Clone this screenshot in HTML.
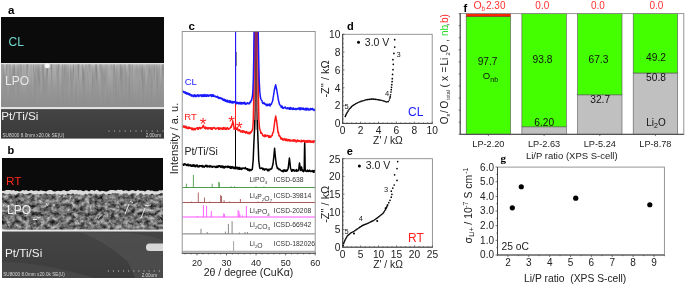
<!DOCTYPE html><html><head><meta charset="utf-8"><style>html,body{margin:0;padding:0;background:#fff;}svg{display:block;filter:blur(0.35px);}</style></head><body>
<svg width="685" height="285" viewBox="0 0 685 285">
<rect width="685" height="285" fill="#fff"/>
<text x="7.9" y="13.9" font-size="11.5" fill="#000" text-anchor="start" font-weight="bold" font-family='"Liberation Sans", sans-serif' >a</text>
<text x="7.4" y="154.3" font-size="11" fill="#000" text-anchor="start" font-weight="bold" font-family='"Liberation Sans", sans-serif' >b</text>
<defs><linearGradient id="lpoA" x1="0" y1="0" x2="0" y2="1"><stop offset="0" stop-color="#d8d8d8"/><stop offset="0.04" stop-color="#bcbcbc"/><stop offset="0.12" stop-color="#acacac"/><stop offset="0.5" stop-color="#9c9c9c"/><stop offset="1" stop-color="#8e8e8e"/></linearGradient><linearGradient id="fadeA" x1="0" y1="0" x2="0" y2="1"><stop offset="0" stop-color="#fff" stop-opacity="1"/><stop offset="0.55" stop-color="#fff" stop-opacity="0.25"/><stop offset="1" stop-color="#fff" stop-opacity="0"/></linearGradient><mask id="maskA"><rect x="0" y="64" width="170" height="43" fill="url(#fadeA)"/></mask><linearGradient id="ptA" x1="0" y1="0" x2="0" y2="1"><stop offset="0" stop-color="#444"/><stop offset="1" stop-color="#3a3a3a"/></linearGradient><filter id="streak" x="0" y="0" width="1" height="1" color-interpolation-filters="sRGB"><feTurbulence type="fractalNoise" baseFrequency="0.45 0.03" numOctaves="2" seed="3"/><feColorMatrix type="matrix" values="0 0 0 0 0  0 0 0 0 0  0 0 0 0 0  1.2 0 0 0 -0.45"/></filter></defs>
<rect x="1" y="17" width="163" height="46" fill="#0b0b0b"/>
<rect x="1" y="63" width="163" height="44.4" fill="url(#lpoA)"/>
<g mask="url(#maskA)"><rect x="1" y="64" width="163" height="43" filter="url(#streak)" opacity="0.55"/></g>
<rect x="1" y="63" width="163" height="1.2" fill="#e0e0e0"/>
<rect x="1" y="107.3" width="163" height="1.8" fill="#e4e4e4"/>
<rect x="1" y="109.1" width="163" height="29.5" fill="url(#ptA)"/>
<circle cx="47.3" cy="65.8" r="2.5" fill="#f6f6f6"/>
<text x="8.6" y="46.2" font-size="12" fill="#6fd8cc" text-anchor="start" font-weight="normal" font-family='"Liberation Sans", sans-serif' >CL</text>
<text x="5.0" y="85" font-size="12" fill="#e8e8e8" text-anchor="start" font-weight="normal" font-family='"Liberation Sans", sans-serif' >LPO</text>
<text x="1.2" y="119.6" font-size="11.7" fill="#f0f0f0" text-anchor="start" font-weight="normal" font-family='"Liberation Sans", sans-serif' >Pt/Ti/Si</text>
<text x="2.5" y="136.6" font-size="4.6" fill="#d8d8d8" text-anchor="start" font-weight="normal" font-family='"Liberation Sans", sans-serif' letter-spacing="0.05">SU8000 8.0mm x20.0k SE(U)</text>
<line x1="109.0" y1="130.5" x2="109.0" y2="131.6" stroke="#ddd" stroke-width="0.8" />
<line x1="114.4" y1="130.5" x2="114.4" y2="131.6" stroke="#ddd" stroke-width="0.8" />
<line x1="119.8" y1="130.5" x2="119.8" y2="131.6" stroke="#ddd" stroke-width="0.8" />
<line x1="125.2" y1="130.5" x2="125.2" y2="131.6" stroke="#ddd" stroke-width="0.8" />
<line x1="130.6" y1="130.5" x2="130.6" y2="131.6" stroke="#ddd" stroke-width="0.8" />
<line x1="136.0" y1="130.5" x2="136.0" y2="131.6" stroke="#ddd" stroke-width="0.8" />
<line x1="141.4" y1="130.5" x2="141.4" y2="131.6" stroke="#ddd" stroke-width="0.8" />
<line x1="146.8" y1="130.5" x2="146.8" y2="131.6" stroke="#ddd" stroke-width="0.8" />
<line x1="152.2" y1="130.5" x2="152.2" y2="131.6" stroke="#ddd" stroke-width="0.8" />
<line x1="157.6" y1="130.5" x2="157.6" y2="131.6" stroke="#ddd" stroke-width="0.8" />
<line x1="163.0" y1="130.5" x2="163.0" y2="131.6" stroke="#ddd" stroke-width="0.8" />
<text x="161" y="136.6" font-size="4.6" fill="#d8d8d8" text-anchor="end" font-weight="normal" font-family='"Liberation Sans", sans-serif' >2.00um</text>
<defs><filter id="grain" x="0" y="0" width="1" height="1" color-interpolation-filters="sRGB"><feTurbulence type="fractalNoise" baseFrequency="0.2 0.24" numOctaves="3" seed="11"/><feColorMatrix type="matrix" values="1 0 0 0 0  1 0 0 0 0  1 0 0 0 0  0 0 0 0 1"/><feComponentTransfer><feFuncR type="linear" slope="1.05" intercept="-0.09"/><feFuncG type="linear" slope="1.05" intercept="-0.09"/><feFuncB type="linear" slope="1.05" intercept="-0.09"/></feComponentTransfer></filter><linearGradient id="ptB" x1="0" y1="0" x2="0" y2="1"><stop offset="0" stop-color="#454545"/><stop offset="1" stop-color="#3c3c3c"/></linearGradient><clipPath id="clipB"><rect x="2" y="158" width="161" height="120"/></clipPath></defs>
<rect x="2" y="158" width="161" height="34" fill="#0b0b0b"/>
<rect x="2" y="192" width="161" height="38" fill="#4a4a4a"/>
<rect x="2" y="193" width="161" height="37" filter="url(#grain)" opacity="1"/>
<g clip-path="url(#clipB)"><line x1="102.3" y1="219.5" x2="104.6" y2="214.9" stroke="#b8b8b8" stroke-width="1.1" opacity="0.8"/><line x1="147.0" y1="198.7" x2="148.6" y2="201.9" stroke="#a8a8a8" stroke-width="1.0" opacity="0.8"/><line x1="4.1" y1="202.2" x2="8.3" y2="205.7" stroke="#d0d0d0" stroke-width="0.7" opacity="0.8"/><line x1="130.3" y1="199.6" x2="131.9" y2="200.8" stroke="#a8a8a8" stroke-width="0.7" opacity="0.8"/><line x1="36.7" y1="227.4" x2="40.9" y2="223.3" stroke="#3a3a3a" stroke-width="1.2" opacity="0.8"/><line x1="102.7" y1="201.0" x2="104.9" y2="195.8" stroke="#909090" stroke-width="0.6" opacity="0.8"/><line x1="68.8" y1="225.9" x2="71.4" y2="227.8" stroke="#3a3a3a" stroke-width="1.0" opacity="0.8"/><line x1="98.0" y1="218.4" x2="101.7" y2="214.6" stroke="#d0d0d0" stroke-width="1.1" opacity="0.8"/><line x1="31.7" y1="210.6" x2="36.5" y2="207.1" stroke="#a8a8a8" stroke-width="1.3" opacity="0.8"/><line x1="59.6" y1="208.3" x2="62.5" y2="211.5" stroke="#a8a8a8" stroke-width="0.9" opacity="0.8"/><line x1="115.9" y1="215.6" x2="118.3" y2="213.7" stroke="#d0d0d0" stroke-width="0.8" opacity="0.8"/><line x1="59.1" y1="212.3" x2="63.1" y2="215.4" stroke="#909090" stroke-width="1.2" opacity="0.8"/><line x1="7.9" y1="226.2" x2="10.9" y2="223.5" stroke="#909090" stroke-width="1.2" opacity="0.8"/><line x1="56.7" y1="225.5" x2="59.0" y2="223.2" stroke="#b8b8b8" stroke-width="1.2" opacity="0.8"/><line x1="102.9" y1="218.8" x2="103.9" y2="221.3" stroke="#a8a8a8" stroke-width="0.7" opacity="0.8"/><line x1="98.7" y1="225.5" x2="101.9" y2="222.5" stroke="#909090" stroke-width="0.9" opacity="0.8"/><line x1="69.9" y1="196.8" x2="71.5" y2="193.9" stroke="#b8b8b8" stroke-width="0.7" opacity="0.8"/><line x1="119.8" y1="226.3" x2="122.7" y2="228.6" stroke="#b8b8b8" stroke-width="0.6" opacity="0.8"/><line x1="69.7" y1="199.7" x2="71.2" y2="196.1" stroke="#d0d0d0" stroke-width="1.1" opacity="0.8"/><line x1="53.2" y1="204.0" x2="54.9" y2="206.0" stroke="#d0d0d0" stroke-width="1.2" opacity="0.8"/><line x1="87.6" y1="200.9" x2="88.8" y2="203.4" stroke="#d0d0d0" stroke-width="0.8" opacity="0.8"/><line x1="127.9" y1="223.6" x2="132.1" y2="226.7" stroke="#909090" stroke-width="1.1" opacity="0.8"/><line x1="108.9" y1="220.1" x2="111.7" y2="223.8" stroke="#d0d0d0" stroke-width="0.8" opacity="0.8"/><line x1="159.9" y1="218.6" x2="162.3" y2="222.2" stroke="#a8a8a8" stroke-width="0.9" opacity="0.8"/><line x1="126.6" y1="205.8" x2="129.9" y2="209.8" stroke="#444" stroke-width="1.1" opacity="0.8"/><line x1="59.4" y1="204.0" x2="62.1" y2="208.6" stroke="#909090" stroke-width="1.2" opacity="0.8"/><line x1="29.8" y1="223.6" x2="32.0" y2="229.0" stroke="#3a3a3a" stroke-width="0.7" opacity="0.8"/><line x1="159.8" y1="201.6" x2="161.4" y2="205.1" stroke="#444" stroke-width="0.7" opacity="0.8"/><line x1="110.0" y1="208.7" x2="113.0" y2="211.7" stroke="#444" stroke-width="0.8" opacity="0.8"/><line x1="162.4" y1="201.5" x2="163.9" y2="203.7" stroke="#444" stroke-width="0.7" opacity="0.8"/><line x1="117.7" y1="227.6" x2="121.9" y2="224.0" stroke="#a8a8a8" stroke-width="0.8" opacity="0.8"/><line x1="31.2" y1="201.4" x2="33.5" y2="198.8" stroke="#444" stroke-width="1.0" opacity="0.8"/><line x1="97.0" y1="202.8" x2="100.0" y2="204.9" stroke="#909090" stroke-width="1.2" opacity="0.8"/><line x1="141.5" y1="217.7" x2="143.1" y2="221.6" stroke="#909090" stroke-width="0.7" opacity="0.8"/><line x1="89.8" y1="206.2" x2="91.8" y2="211.1" stroke="#d0d0d0" stroke-width="0.9" opacity="0.8"/><line x1="92.8" y1="212.8" x2="96.2" y2="215.5" stroke="#3a3a3a" stroke-width="0.9" opacity="0.8"/><line x1="34.1" y1="199.4" x2="37.9" y2="195.3" stroke="#a8a8a8" stroke-width="0.9" opacity="0.8"/><line x1="54.5" y1="225.2" x2="58.3" y2="221.3" stroke="#3a3a3a" stroke-width="0.9" opacity="0.8"/><line x1="71.5" y1="202.5" x2="74.6" y2="206.2" stroke="#d0d0d0" stroke-width="1.3" opacity="0.8"/><line x1="149.1" y1="214.7" x2="150.7" y2="217.4" stroke="#909090" stroke-width="0.9" opacity="0.8"/><line x1="53.4" y1="227.5" x2="54.4" y2="229.8" stroke="#a8a8a8" stroke-width="0.7" opacity="0.8"/><line x1="102.1" y1="209.6" x2="104.2" y2="211.1" stroke="#d0d0d0" stroke-width="0.6" opacity="0.8"/><line x1="87.7" y1="204.0" x2="89.2" y2="206.7" stroke="#909090" stroke-width="1.2" opacity="0.8"/><line x1="118.2" y1="204.4" x2="120.4" y2="207.6" stroke="#444" stroke-width="1.2" opacity="0.8"/><line x1="143.8" y1="224.5" x2="145.4" y2="221.7" stroke="#3a3a3a" stroke-width="1.1" opacity="0.8"/><line x1="100.8" y1="219.1" x2="103.0" y2="216.5" stroke="#444" stroke-width="1.2" opacity="0.8"/><line x1="23.3" y1="195.1" x2="24.6" y2="197.2" stroke="#444" stroke-width="1.0" opacity="0.8"/><line x1="4.3" y1="220.7" x2="7.1" y2="224.6" stroke="#444" stroke-width="1.1" opacity="0.8"/><line x1="140.2" y1="222.8" x2="143.9" y2="226.8" stroke="#b8b8b8" stroke-width="1.2" opacity="0.8"/><line x1="76.9" y1="220.0" x2="79.0" y2="224.3" stroke="#d0d0d0" stroke-width="1.0" opacity="0.8"/><line x1="106.4" y1="210.6" x2="109.4" y2="213.1" stroke="#3a3a3a" stroke-width="1.2" opacity="0.8"/><line x1="158.6" y1="212.8" x2="161.7" y2="217.0" stroke="#a8a8a8" stroke-width="1.1" opacity="0.8"/><line x1="45.0" y1="197.8" x2="46.2" y2="196.0" stroke="#444" stroke-width="0.9" opacity="0.8"/><line x1="13.1" y1="208.4" x2="17.4" y2="211.5" stroke="#b8b8b8" stroke-width="1.0" opacity="0.8"/><line x1="134.7" y1="198.7" x2="136.5" y2="194.2" stroke="#d0d0d0" stroke-width="0.7" opacity="0.8"/><line x1="100.3" y1="208.7" x2="102.6" y2="207.0" stroke="#3a3a3a" stroke-width="0.7" opacity="0.8"/><line x1="63.1" y1="197.4" x2="64.5" y2="195.4" stroke="#d0d0d0" stroke-width="1.2" opacity="0.8"/><line x1="23.6" y1="209.2" x2="25.7" y2="212.6" stroke="#909090" stroke-width="1.3" opacity="0.8"/><line x1="62.2" y1="196.8" x2="65.7" y2="199.7" stroke="#3a3a3a" stroke-width="0.8" opacity="0.8"/><line x1="153.7" y1="213.1" x2="156.7" y2="210.3" stroke="#909090" stroke-width="1.2" opacity="0.8"/><line x1="47.6" y1="227.2" x2="49.3" y2="223.7" stroke="#d0d0d0" stroke-width="0.7" opacity="0.8"/><line x1="116.8" y1="216.6" x2="118.1" y2="214.9" stroke="#a8a8a8" stroke-width="1.0" opacity="0.8"/><line x1="75.0" y1="207.9" x2="77.1" y2="210.4" stroke="#3a3a3a" stroke-width="0.6" opacity="0.8"/><line x1="118.7" y1="196.8" x2="120.2" y2="193.4" stroke="#b8b8b8" stroke-width="1.1" opacity="0.8"/><line x1="15.5" y1="225.1" x2="16.7" y2="227.3" stroke="#3a3a3a" stroke-width="0.9" opacity="0.8"/><line x1="136.6" y1="204.6" x2="138.2" y2="207.7" stroke="#444" stroke-width="1.2" opacity="0.8"/><line x1="106.3" y1="221.5" x2="107.6" y2="224.7" stroke="#a8a8a8" stroke-width="1.0" opacity="0.8"/><line x1="94.3" y1="219.4" x2="96.0" y2="220.7" stroke="#b8b8b8" stroke-width="0.7" opacity="0.8"/><line x1="8.4" y1="224.3" x2="10.2" y2="227.2" stroke="#d0d0d0" stroke-width="0.9" opacity="0.8"/><line x1="145.3" y1="215.4" x2="148.0" y2="218.2" stroke="#b8b8b8" stroke-width="0.7" opacity="0.8"/></g>
<g clip-path="url(#clipB)" stroke="#e8e8e8" stroke-width="1"><line x1="125" y1="214" x2="129" y2="204"/><line x1="141" y1="218" x2="145" y2="208"/><line x1="145" y1="205.5" x2="151" y2="205"/><line x1="33" y1="219.5" x2="37" y2="219.5"/><line x1="46" y1="203" x2="47.5" y2="206"/><line x1="130" y1="201" x2="133" y2="203"/></g>
<g clip-path="url(#clipB)"><polygon points="1.0,190.4 2.8,191.0 4.6,190.8 6.4,189.9 8.2,189.9 10.0,189.9 11.8,190.6 13.6,190.0 15.4,190.9 17.2,190.8 19.0,191.6 20.8,191.3 22.6,190.1 24.4,190.4 26.2,190.1 28.0,191.0 29.8,190.8 31.6,189.9 33.4,191.0 35.2,190.4 37.0,190.6 38.8,191.2 40.6,190.2 42.4,190.7 44.2,191.1 46.0,191.6 47.8,190.6 49.6,190.1 51.4,189.9 53.2,191.2 55.0,191.4 56.8,191.1 58.6,190.8 60.4,191.3 62.2,190.7 64.0,189.9 65.8,191.0 67.6,191.3 69.4,190.5 71.2,189.8 73.0,190.1 74.8,189.9 76.6,190.0 78.4,190.5 80.2,189.9 82.0,190.8 83.8,191.3 85.6,190.3 87.4,190.4 89.2,191.5 91.0,190.1 92.8,190.2 94.6,190.9 96.4,189.8 98.2,190.5 100.0,191.5 101.8,190.7 103.6,191.0 105.4,191.4 107.2,191.4 109.0,190.5 110.8,190.0 112.6,189.9 114.4,190.2 116.2,190.4 118.0,189.8 119.8,190.0 121.6,189.8 123.4,190.9 125.2,190.3 127.0,190.5 128.8,191.3 130.6,190.6 132.4,190.0 134.2,190.4 136.0,191.3 137.8,189.8 139.6,190.8 141.4,190.8 143.2,190.8 145.0,191.4 146.8,190.3 148.6,190.1 150.4,190.8 152.2,190.4 154.0,191.3 155.8,191.3 157.6,191.3 159.4,190.2 161.2,190.4 163.0,189.9 164.8,190.3 164.8,194.4 163.0,193.6 161.2,193.1 159.4,194.0 157.6,194.5 155.8,194.6 154.0,195.0 152.2,193.4 150.4,194.6 148.6,194.5 146.8,193.7 145.0,194.4 143.2,195.0 141.4,193.1 139.6,193.3 137.8,194.9 136.0,193.3 134.2,193.5 132.4,193.2 130.6,194.0 128.8,195.0 127.0,193.2 125.2,193.7 123.4,193.3 121.6,194.7 119.8,193.7 118.0,193.3 116.2,193.1 114.4,193.3 112.6,193.1 110.8,194.3 109.0,193.8 107.2,194.6 105.4,194.6 103.6,193.1 101.8,194.2 100.0,194.4 98.2,194.1 96.4,193.8 94.6,193.5 92.8,194.0 91.0,193.5 89.2,193.3 87.4,194.8 85.6,193.8 83.8,194.7 82.0,194.8 80.2,193.9 78.4,194.7 76.6,193.5 74.8,194.5 73.0,193.2 71.2,193.9 69.4,194.3 67.6,193.6 65.8,195.0 64.0,194.4 62.2,194.3 60.4,194.9 58.6,193.9 56.8,194.2 55.0,193.6 53.2,194.1 51.4,194.3 49.6,194.0 47.8,194.5 46.0,193.2 44.2,193.6 42.4,194.8 40.6,194.1 38.8,194.4 37.0,193.6 35.2,194.2 33.4,193.9 31.6,193.4 29.8,193.1 28.0,193.7 26.2,194.2 24.4,194.6 22.6,193.2 20.8,193.6 19.0,193.1 17.2,193.8 15.4,194.9 13.6,193.4 11.8,194.7 10.0,193.2 8.2,193.9 6.4,194.0 4.6,193.7 2.8,193.1 1.0,193.3" fill="#dcdcdc"/></g>
<rect x="2" y="229.6" width="161" height="1.9" fill="#e8e8e8"/>
<rect x="2" y="231.5" width="161" height="46.5" fill="url(#ptB)"/>
<g clip-path="url(#clipB)"><path d="M80,232 C100,240 115,250 128,262 L135,278 L163,278 L163,240 C150,236 140,234 130,233 Z" fill="#555" opacity="0.55"/><path d="M2,262 C30,262 60,268 95,278 L2,278 Z" fill="#4e4e4e" opacity="0.6"/><rect x="146" y="243.4" width="20" height="7.6" rx="3.5" fill="#d8d8d8"/></g>
<text x="6.1" y="184.5" font-size="11.7" fill="#ff2a1a" text-anchor="start" font-weight="normal" font-family='"Liberation Sans", sans-serif' >RT</text>
<text x="7.0" y="214.1" font-size="12" fill="#eeeeee" text-anchor="start" font-weight="normal" font-family='"Liberation Sans", sans-serif' >LPO</text>
<text x="5.0" y="256.9" font-size="11.7" fill="#f0f0f0" text-anchor="start" font-weight="normal" font-family='"Liberation Sans", sans-serif' >Pt/Ti/Si</text>
<text x="3.2" y="276.2" font-size="4.6" fill="#d8d8d8" text-anchor="start" font-weight="normal" font-family='"Liberation Sans", sans-serif' letter-spacing="0.05">SU8000 8.0mm x20.0k SE(U)</text>
<line x1="108.3" y1="270.4" x2="108.3" y2="271.6" stroke="#ddd" stroke-width="0.8" />
<line x1="113.39999999999999" y1="270.4" x2="113.39999999999999" y2="271.6" stroke="#ddd" stroke-width="0.8" />
<line x1="118.5" y1="270.4" x2="118.5" y2="271.6" stroke="#ddd" stroke-width="0.8" />
<line x1="123.6" y1="270.4" x2="123.6" y2="271.6" stroke="#ddd" stroke-width="0.8" />
<line x1="128.7" y1="270.4" x2="128.7" y2="271.6" stroke="#ddd" stroke-width="0.8" />
<line x1="133.8" y1="270.4" x2="133.8" y2="271.6" stroke="#ddd" stroke-width="0.8" />
<line x1="138.9" y1="270.4" x2="138.9" y2="271.6" stroke="#ddd" stroke-width="0.8" />
<line x1="144.0" y1="270.4" x2="144.0" y2="271.6" stroke="#ddd" stroke-width="0.8" />
<line x1="149.1" y1="270.4" x2="149.1" y2="271.6" stroke="#ddd" stroke-width="0.8" />
<line x1="154.2" y1="270.4" x2="154.2" y2="271.6" stroke="#ddd" stroke-width="0.8" />
<line x1="159.3" y1="270.4" x2="159.3" y2="271.6" stroke="#ddd" stroke-width="0.8" />
<text x="157" y="276.6" font-size="4.6" fill="#d8d8d8" text-anchor="end" font-weight="normal" font-family='"Liberation Sans", sans-serif' >2.00um</text>
<defs><clipPath id="cclip"><rect x="182.2" y="31.5" width="133.0" height="221.7"/></clipPath></defs>
<text x="188.6" y="29.5" font-size="11.5" fill="#000" text-anchor="start" font-weight="bold" font-family='"Liberation Sans", sans-serif' >c</text>
<g clip-path="url(#cclip)">
<line x1="182.2" y1="187.5" x2="315.2" y2="187.5" stroke="#4c9c4c" stroke-width="1" />
<line x1="186.4" y1="187.5" x2="186.4" y2="183.7" stroke="#4c9c4c" stroke-width="0.9" />
<line x1="193.4" y1="187.5" x2="193.4" y2="174.9" stroke="#4c9c4c" stroke-width="0.9" />
<line x1="212.2" y1="187.5" x2="212.2" y2="183.7" stroke="#4c9c4c" stroke-width="0.9" />
<line x1="218.8" y1="187.5" x2="218.8" y2="181.9" stroke="#4c9c4c" stroke-width="0.9" />
<line x1="219.4" y1="187.5" x2="219.4" y2="182.5" stroke="#4c9c4c" stroke-width="0.9" />
<line x1="231.1" y1="187.5" x2="231.1" y2="186.3" stroke="#4c9c4c" stroke-width="0.9" />
<line x1="234.6" y1="187.5" x2="234.6" y2="186.3" stroke="#4c9c4c" stroke-width="0.9" />
<line x1="256" y1="187.5" x2="256" y2="186.3" stroke="#4c9c4c" stroke-width="0.9" />
<line x1="264" y1="187.5" x2="264" y2="186.5" stroke="#4c9c4c" stroke-width="0.9" />
<line x1="182.2" y1="202.5" x2="315.2" y2="202.5" stroke="#a85858" stroke-width="1" />
<line x1="191.6" y1="202.5" x2="191.6" y2="201.5" stroke="#a85858" stroke-width="0.9" />
<line x1="198.3" y1="202.5" x2="198.3" y2="192.5" stroke="#a85858" stroke-width="0.9" />
<line x1="204.5" y1="202.5" x2="204.5" y2="197.5" stroke="#a85858" stroke-width="0.9" />
<line x1="209.7" y1="202.5" x2="209.7" y2="201.5" stroke="#a85858" stroke-width="0.9" />
<line x1="220.6" y1="202.5" x2="220.6" y2="195.1" stroke="#a85858" stroke-width="0.9" />
<line x1="221.5" y1="202.5" x2="221.5" y2="196" stroke="#a85858" stroke-width="0.9" />
<line x1="224.1" y1="202.5" x2="224.1" y2="200.2" stroke="#a85858" stroke-width="0.9" />
<line x1="229.4" y1="202.5" x2="229.4" y2="201.5" stroke="#a85858" stroke-width="0.9" />
<line x1="240.4" y1="202.5" x2="240.4" y2="199" stroke="#a85858" stroke-width="0.9" />
<line x1="258" y1="202.5" x2="258" y2="201.5" stroke="#a85858" stroke-width="0.9" />
<line x1="262" y1="202.5" x2="262" y2="201.5" stroke="#a85858" stroke-width="0.9" />
<line x1="182.2" y1="217.0" x2="315.2" y2="217.0" stroke="#ff50ff" stroke-width="1" />
<line x1="197.4" y1="217.0" x2="197.4" y2="216" stroke="#ff50ff" stroke-width="0.9" />
<line x1="203.4" y1="217.0" x2="203.4" y2="205.1" stroke="#ff50ff" stroke-width="0.9" />
<line x1="206.6" y1="217.0" x2="206.6" y2="206" stroke="#ff50ff" stroke-width="0.9" />
<line x1="211.3" y1="217.0" x2="211.3" y2="210.9" stroke="#ff50ff" stroke-width="0.9" />
<line x1="223.8" y1="217.0" x2="223.8" y2="213.3" stroke="#ff50ff" stroke-width="0.9" />
<line x1="224.3" y1="217.0" x2="224.3" y2="214" stroke="#ff50ff" stroke-width="0.9" />
<line x1="238.1" y1="217.0" x2="238.1" y2="210" stroke="#ff50ff" stroke-width="0.9" />
<line x1="239" y1="217.0" x2="239" y2="211" stroke="#ff50ff" stroke-width="0.9" />
<line x1="239.9" y1="217.0" x2="239.9" y2="214" stroke="#ff50ff" stroke-width="0.9" />
<line x1="242.5" y1="217.0" x2="242.5" y2="215.5" stroke="#ff50ff" stroke-width="0.9" />
<line x1="246.4" y1="217.0" x2="246.4" y2="206" stroke="#ff50ff" stroke-width="0.9" />
<line x1="182.2" y1="233.9" x2="315.2" y2="233.9" stroke="#7a7a7a" stroke-width="1" />
<line x1="201" y1="233.9" x2="201" y2="228.8" stroke="#7a7a7a" stroke-width="0.9" />
<line x1="207.2" y1="233.9" x2="207.2" y2="232" stroke="#7a7a7a" stroke-width="0.9" />
<line x1="225.4" y1="233.9" x2="225.4" y2="231.5" stroke="#7a7a7a" stroke-width="0.9" />
<line x1="228.4" y1="233.9" x2="228.4" y2="223.9" stroke="#7a7a7a" stroke-width="0.9" />
<line x1="232.1" y1="233.9" x2="232.1" y2="221.2" stroke="#7a7a7a" stroke-width="0.9" />
<line x1="239.3" y1="233.9" x2="239.3" y2="232.5" stroke="#7a7a7a" stroke-width="0.9" />
<line x1="245" y1="233.9" x2="245" y2="232" stroke="#7a7a7a" stroke-width="0.9" />
<line x1="247.4" y1="233.9" x2="247.4" y2="232" stroke="#7a7a7a" stroke-width="0.9" />
<line x1="182.2" y1="251.3" x2="315.2" y2="251.3" stroke="#9a9a9a" stroke-width="1" />
<line x1="233.6" y1="251.3" x2="233.6" y2="241.1" stroke="#9a9a9a" stroke-width="0.9" />
<polyline points="182.50,165.01 182.84,164.04 183.18,165.07 183.52,165.23 183.86,165.21 184.20,164.08 184.55,163.84 184.89,163.90 185.23,163.89 185.57,163.96 185.91,164.85 186.25,165.45 186.59,165.38 186.93,164.71 187.27,165.11 187.61,165.45 187.95,164.07 188.30,165.27 188.64,165.82 188.98,165.61 189.32,165.60 189.66,165.11 190.00,164.56 190.34,165.81 190.67,164.93 191.01,165.90 191.34,166.27 191.68,165.15 192.01,165.20 192.35,166.32 192.68,165.91 193.02,164.83 193.35,164.78 193.69,164.86 194.03,166.40 194.36,166.23 194.70,164.94 195.03,166.34 195.37,166.68 195.70,166.06 196.04,165.48 196.37,165.91 196.71,165.11 197.05,164.91 197.38,166.85 197.72,166.24 198.05,166.03 198.39,166.87 198.72,165.91 199.06,166.81 199.39,166.76 199.73,165.56 200.06,165.67 200.40,165.79 200.73,165.69 201.06,166.39 201.39,165.74 201.72,166.07 202.06,165.50 202.39,167.06 202.72,165.96 203.05,166.17 203.38,166.43 203.71,167.08 204.04,166.12 204.37,167.12 204.70,166.29 205.03,166.36 205.37,166.35 205.70,165.35 206.03,166.20 206.36,165.69 206.69,165.34 207.02,166.94 207.35,165.69 207.68,166.30 208.01,166.81 208.34,166.48 208.68,166.02 209.01,166.42 209.34,166.50 209.67,166.96 210.00,165.61 210.33,166.53 210.66,165.91 210.99,165.97 211.32,166.97 211.65,166.45 211.98,166.56 212.31,166.96 212.64,167.27 212.97,166.34 213.30,166.69 213.63,166.48 213.96,166.50 214.29,166.86 214.62,166.39 214.95,166.56 215.28,166.45 215.62,167.39 215.95,166.91 216.28,167.27 216.61,167.41 216.94,166.05 217.27,166.65 217.60,167.43 217.93,167.23 218.26,165.83 218.59,165.80 218.92,166.45 219.25,165.71 219.58,166.06 219.91,165.73 220.24,166.93 220.57,167.16 220.90,167.39 221.24,165.94 221.58,167.09 221.92,167.00 222.26,166.00 222.59,167.50 222.93,167.70 223.27,166.23 223.61,167.73 223.95,166.65 224.29,166.85 224.63,167.89 224.97,167.60 225.31,166.28 225.64,166.85 225.98,167.05 226.32,166.72 226.66,166.46 227.00,166.74 227.34,167.57 227.68,166.19 228.02,167.29 228.36,167.09 228.69,166.28 229.03,166.93 229.37,167.54 229.71,167.35 230.05,166.48 230.39,168.35 230.73,167.98 231.07,168.38 231.41,166.67 231.74,167.02 232.08,166.60 232.42,168.10 232.76,167.11 233.10,166.86 233.45,167.51 233.80,168.56 234.15,168.44 234.50,167.38 234.85,167.23 235.20,168.84 235.54,168.18 235.89,168.47 236.23,167.29 236.57,167.26 236.91,168.55 237.26,168.06 237.60,167.39 237.94,169.16 238.29,168.59 238.63,168.96 238.97,167.56 239.31,169.14 239.66,167.60 240.00,169.23 240.33,168.45 240.67,168.26 241.00,168.73 241.33,169.52 241.67,168.24 242.00,168.01 242.33,168.85 242.67,168.31 243.00,168.09 243.33,168.24 243.67,168.06 244.00,168.40 244.35,168.37 244.70,168.11 245.05,168.77 245.40,167.58 245.77,168.53 246.13,168.42 246.50,169.29 246.85,168.68 247.20,169.18 247.55,168.75 247.90,170.23 248.25,169.90 248.60,169.22 248.95,169.83 249.30,170.79 249.65,169.17 250.00,170.64 250.38,169.78 250.77,169.82 251.15,170.42 251.53,169.45 251.92,169.60 252.30,169.50 252.75,164.75 253.20,160.00 253.80,145.00 254.40,132.00 254.80,121.00 255.20,110.00 255.70,31.38 256.05,31.96 256.40,31.00 256.90,110.00 257.30,121.00 257.70,132.00 258.20,145.00 258.70,160.00 259.15,163.75 259.60,167.19 259.94,168.38 260.29,168.34 260.63,168.41 260.97,168.17 261.31,168.27 261.66,167.89 262.00,168.26 262.35,168.20 262.69,169.59 263.04,168.67 263.38,168.54 263.73,168.44 264.07,170.01 264.42,170.12 264.76,169.78 265.11,169.05 265.45,169.03 265.80,169.19 266.15,169.55 266.50,168.98 266.85,169.59 267.20,169.26 267.55,170.69 267.90,170.75 268.25,169.93 268.60,169.36 268.95,170.83 269.30,169.55 269.65,169.68 270.00,169.00 270.36,169.46 270.72,169.35 271.08,169.11 271.44,168.20 271.80,168.50 272.20,167.00 272.60,165.50 273.00,164.00 273.45,160.00 273.90,156.00 274.25,152.10 274.60,148.20 274.95,152.10 275.30,156.00 275.75,160.00 276.20,164.00 276.60,165.50 277.00,167.00 277.40,168.51 277.80,167.88 278.20,168.78 278.60,168.80 279.00,169.80 279.36,169.16 279.71,169.20 280.07,169.84 280.42,169.78 280.78,170.56 281.13,170.53 281.49,171.05 281.84,170.94 282.20,171.13 282.54,171.44 282.88,170.45 283.22,170.31 283.56,171.62 283.90,169.93 284.24,171.07 284.58,170.89 284.92,169.68 285.26,171.25 285.60,171.35 285.94,170.81 286.28,171.01 286.62,171.15 286.96,169.79 287.30,170.55 287.63,169.51 287.97,169.17 288.30,167.50 288.90,162.00 289.40,158.10 289.90,162.00 290.50,168.11 290.87,169.15 291.23,169.67 291.60,171.29 291.93,170.87 292.27,170.90 292.60,169.97 292.93,169.58 293.27,169.79 293.60,170.25 293.93,169.74 294.27,171.21 294.60,170.66 294.93,170.80 295.27,170.80 295.60,170.92 295.93,170.54 296.27,169.57 296.60,171.17 296.93,171.07 297.27,170.59 297.60,170.66 297.93,170.91 298.27,169.73 298.60,170.60 299.10,166.00 299.50,162.90 299.90,166.00 300.25,168.00 300.60,170.47 300.95,168.50 301.30,167.15 301.60,167.00 302.00,170.03 302.37,171.01 302.73,170.01 303.10,171.13 303.47,171.65 303.83,170.74 304.20,170.80 304.50,150.00 304.70,142.60 304.90,150.00 305.20,170.57 305.54,170.79 305.89,171.22 306.23,171.42 306.57,171.15 306.91,171.23 307.26,170.13 307.60,170.29 307.94,170.54 308.29,171.54 308.63,170.69 308.97,171.25 309.31,170.17 309.66,170.29 310.00,170.74 310.35,171.56 310.69,171.61 311.04,171.59 311.39,170.84 311.73,171.30 312.08,171.21 312.43,171.23 312.77,170.54 313.12,172.11 313.47,170.73 313.81,172.30 314.16,172.23 314.51,170.41 314.85,171.30 315.20,171.40" fill="none" stroke="#000" stroke-width="1.5" stroke-linejoin="round" />
<line x1="235.5" y1="168" x2="235.5" y2="100" stroke="#000" stroke-width="1" />
<line x1="236.2" y1="66" x2="236.2" y2="52" stroke="#333" stroke-width="0.8" />
<polygon points="254.2,100 254.6,60 255.0,31 257.3,31 257.7,60 258.1,100 258.5,120 253.8,120" fill="#ff8080" opacity="0.45"/>
<polyline points="182.50,126.64 182.85,127.05 183.19,126.13 183.54,125.88 183.88,125.88 184.23,127.47 184.58,126.11 184.92,126.97 185.27,126.21 185.62,127.09 185.96,128.06 186.31,126.53 186.65,128.03 187.00,127.52 187.33,128.37 187.66,128.09 187.99,127.24 188.32,128.67 188.66,127.94 188.99,127.11 189.32,127.16 189.65,128.23 189.98,128.25 190.31,128.04 190.64,127.81 190.98,128.31 191.31,128.35 191.64,129.49 191.97,127.91 192.30,129.50 192.64,129.65 192.97,128.18 193.31,129.76 193.64,129.31 193.98,129.66 194.31,128.40 194.65,128.54 194.98,128.55 195.32,129.73 195.65,128.88 195.99,128.40 196.32,128.50 196.66,128.17 196.99,127.68 197.33,127.76 197.66,129.20 198.00,128.07 198.35,129.27 198.70,127.80 199.05,127.73 199.40,128.12 199.75,127.38 200.10,127.65 200.45,128.71 200.80,128.47 201.15,128.22 201.50,127.76 201.90,127.88 202.30,127.48 202.70,126.25 203.10,126.14 203.44,125.26 203.78,127.08 204.12,126.98 204.46,128.05 204.80,128.29 205.15,127.60 205.49,127.15 205.84,128.93 206.19,127.36 206.53,128.08 206.88,127.85 207.23,127.78 207.57,128.69 207.92,129.19 208.27,127.79 208.61,128.61 208.96,127.92 209.31,128.46 209.65,128.16 210.00,127.73 210.33,127.73 210.67,127.82 211.00,129.22 211.33,128.41 211.67,127.86 212.00,129.23 212.33,129.42 212.67,128.33 213.00,127.71 213.33,127.82 213.67,127.62 214.00,128.12 214.33,127.63 214.67,127.92 215.00,127.97 215.33,128.59 215.67,129.23 216.00,128.96 216.33,128.29 216.67,128.29 217.00,128.52 217.33,128.23 217.67,128.15 218.00,127.60 218.33,128.04 218.67,129.42 219.00,127.74 219.33,128.50 219.67,128.76 220.00,129.23 220.33,127.93 220.67,128.03 221.00,127.99 221.33,128.28 221.67,128.37 222.00,129.39 222.33,129.17 222.67,129.22 223.00,127.51 223.33,127.53 223.67,128.88 224.00,129.25 224.33,128.40 224.67,128.62 225.00,127.44 225.33,128.22 225.67,129.29 226.00,129.08 226.33,129.14 226.67,129.37 227.00,127.92 227.33,127.64 227.67,127.72 228.00,128.46 228.33,128.77 228.67,129.29 229.00,128.84 229.37,128.51 229.73,128.56 230.10,127.76 230.47,127.77 230.83,126.56 231.20,127.30 231.60,125.87 232.00,124.43 232.40,123.56 232.80,121.77 233.40,124.00 233.80,126.25 234.20,129.34 234.58,128.87 234.97,128.27 235.35,128.01 235.73,128.34 236.12,129.19 236.50,129.40 237.10,127.62 237.55,128.49 238.00,130.35 238.33,130.55 238.67,130.24 239.00,129.99 239.33,130.82 239.67,129.72 240.00,130.38 240.33,130.78 240.67,131.86 241.00,131.31 241.33,131.87 241.67,131.13 242.00,130.73 242.33,130.83 242.67,132.34 243.00,131.91 243.33,131.21 243.67,130.74 244.00,131.80 244.33,132.25 244.67,131.84 245.00,131.61 245.33,132.53 245.67,133.15 246.00,131.85 246.33,131.57 246.67,132.28 247.00,132.54 247.33,133.17 247.67,132.30 248.00,133.59 248.36,133.45 248.71,132.95 249.07,132.32 249.43,133.83 249.79,132.48 250.14,133.47 250.50,132.26 250.88,131.79 251.25,132.42 251.62,131.04 252.00,131.00 252.40,129.50 252.80,128.00 253.30,120.00 253.70,100.00 254.20,60.00 254.60,31.90 254.94,30.99 255.29,30.37 255.63,30.45 255.98,30.83 256.32,31.33 256.67,31.90 257.01,30.29 257.36,30.79 257.70,31.00 258.10,60.00 258.50,100.00 258.90,120.00 259.50,128.00 259.83,129.17 260.17,130.33 260.50,130.93 260.90,133.35 261.30,132.58 261.70,133.30 262.03,133.48 262.36,134.31 262.69,135.48 263.02,135.61 263.35,135.47 263.68,136.16 264.01,136.18 264.34,135.14 264.67,135.01 265.00,136.67 265.33,136.35 265.66,134.97 265.99,136.29 266.33,135.77 266.66,135.81 266.99,135.78 267.32,135.51 267.65,135.23 267.98,135.83 268.32,136.03 268.65,137.29 268.98,135.68 269.31,137.41 269.64,135.95 269.97,136.30 270.31,137.29 270.64,137.34 270.97,136.61 271.30,135.90 271.65,135.95 272.00,134.95 272.35,135.24 272.70,132.99 273.05,132.53 273.40,132.00 273.75,129.25 274.10,126.50 274.45,123.75 274.80,121.00 275.25,118.55 275.70,116.10 276.15,118.55 276.60,121.00 276.95,123.75 277.30,126.50 277.65,129.25 278.00,132.79 278.33,131.98 278.67,133.65 279.00,135.37 279.33,136.20 279.67,135.66 280.00,136.57 280.36,136.83 280.72,138.74 281.08,137.61 281.44,138.79 281.80,139.30 282.16,138.38 282.52,138.44 282.88,140.02 283.24,139.53 283.60,139.02 283.94,139.97 284.27,139.21 284.61,139.17 284.94,138.66 285.28,140.20 285.61,140.56 285.95,140.04 286.28,140.69 286.62,138.89 286.95,139.35 287.29,139.87 287.62,140.87 287.96,140.90 288.29,139.81 288.63,139.58 288.96,139.97 289.30,140.14 289.64,141.04 289.97,139.59 290.31,140.87 290.64,140.78 290.98,140.99 291.31,140.93 291.65,140.63 291.98,140.11 292.32,140.13 292.65,140.26 292.99,141.14 293.32,139.77 293.66,140.04 293.99,141.19 294.33,140.22 294.66,139.89 295.00,139.87 295.33,140.92 295.66,140.48 295.99,141.80 296.32,141.62 296.66,141.84 296.99,140.41 297.32,140.06 297.65,140.10 297.98,140.91 298.31,141.35 298.64,140.84 298.97,140.43 299.30,140.80 299.64,141.22 299.97,141.34 300.30,141.51 300.63,141.72 300.96,141.36 301.29,140.29 301.62,141.74 301.95,140.66 302.29,141.22 302.62,140.85 302.95,141.59 303.28,140.53 303.61,140.64 303.94,140.64 304.27,140.47 304.60,141.95 304.93,141.35 305.27,140.86 305.60,141.01 305.93,142.22 306.26,141.26 306.59,140.72 306.92,141.89 307.25,141.59 307.58,142.28 307.91,140.52 308.25,141.27 308.58,141.98 308.91,142.03 309.24,142.19 309.57,140.46 309.90,140.98 310.23,140.64 310.56,140.80 310.90,142.38 311.23,141.61 311.56,142.32 311.89,141.21 312.22,142.21 312.55,141.39 312.88,141.03 313.21,142.08 313.54,142.43 313.88,140.76 314.21,141.75 314.54,141.81 314.87,141.02 315.20,141.60" fill="none" stroke="#ff1a1a" stroke-width="1.5" stroke-linejoin="round" />
<line x1="235.5" y1="130" x2="235.5" y2="31" stroke="#ff1a1a" stroke-width="1" />
<line x1="256.05" y1="95" x2="256.05" y2="130" stroke="#555" stroke-width="0.8" />
<polyline points="182.50,91.44 182.85,91.13 183.19,91.40 183.54,91.65 183.88,92.48 184.23,92.73 184.58,91.98 184.92,91.75 185.27,92.52 185.62,93.37 185.96,92.53 186.31,92.93 186.65,92.86 187.00,94.19 187.33,93.82 187.66,92.98 187.99,93.18 188.32,93.89 188.66,94.33 188.99,94.63 189.32,93.66 189.65,93.93 189.98,95.12 190.31,94.67 190.64,94.54 190.98,94.72 191.31,96.13 191.64,94.97 191.97,95.61 192.30,95.31 192.64,95.44 192.97,96.35 193.31,96.63 193.64,95.37 193.98,95.05 194.31,96.13 194.65,95.09 194.98,94.71 195.32,96.51 195.65,95.57 195.99,96.37 196.32,95.55 196.66,96.52 196.99,95.69 197.33,95.10 197.66,94.82 198.00,95.90 198.35,96.06 198.69,96.58 199.04,94.91 199.39,95.96 199.74,95.44 200.08,95.68 200.43,94.94 200.78,95.20 201.13,95.65 201.47,96.44 201.82,94.79 202.17,95.53 202.52,96.14 202.86,96.44 203.21,94.88 203.56,94.72 203.91,96.33 204.25,96.37 204.60,95.37 204.93,94.52 205.26,96.28 205.59,95.21 205.92,96.25 206.25,95.70 206.58,96.12 206.92,94.80 207.25,96.06 207.58,94.95 207.91,95.32 208.24,96.22 208.57,96.20 208.90,94.92 209.23,95.00 209.56,95.37 209.89,95.62 210.22,95.36 210.55,94.85 210.88,95.11 211.22,96.08 211.55,96.44 211.88,94.74 212.21,95.79 212.54,96.19 212.87,94.76 213.20,96.38 213.54,95.06 213.89,96.16 214.23,96.19 214.57,96.47 214.91,95.96 215.26,96.31 215.60,96.77 215.94,96.58 216.29,97.17 216.63,96.88 216.97,96.99 217.31,96.29 217.66,97.61 218.00,97.48 218.33,97.12 218.67,98.32 219.00,98.50 219.33,98.00 219.67,97.59 220.00,98.33 220.33,97.74 220.67,97.93 221.00,98.68 221.33,98.15 221.67,99.00 222.00,99.28 222.33,98.49 222.67,99.83 223.00,98.86 223.33,100.26 223.66,100.44 223.99,100.00 224.32,99.18 224.65,100.17 224.98,100.01 225.32,101.25 225.65,99.71 225.98,101.24 226.31,101.62 226.64,101.18 226.97,101.44 227.30,100.29 227.63,101.96 227.96,101.07 228.29,102.09 228.62,102.10 228.95,100.69 229.28,102.03 229.62,102.41 229.95,100.77 230.28,101.43 230.61,102.34 230.94,101.23 231.27,102.80 231.60,101.65 231.95,102.79 232.31,101.50 232.66,102.27 233.02,103.16 233.37,101.79 233.73,101.95 234.08,102.49 234.44,102.17 234.79,101.66 235.15,102.01 235.50,102.02 235.70,103.57 236.00,103.36 236.33,103.79 236.67,102.34 237.00,103.57 237.33,102.23 237.67,103.06 238.00,103.27 238.33,102.72 238.67,103.75 239.00,103.11 239.33,103.16 239.67,103.77 240.00,102.21 240.35,104.00 240.71,103.28 241.06,102.82 241.42,103.63 241.77,102.57 242.13,104.04 242.48,103.22 242.84,102.79 243.19,103.61 243.55,102.98 243.90,102.45 244.24,103.65 244.58,102.31 244.93,103.91 245.27,102.84 245.61,103.67 245.95,104.42 246.29,103.68 246.63,103.89 246.97,103.25 247.32,102.69 247.66,102.81 248.00,103.10 248.38,103.82 248.77,103.23 249.15,103.18 249.53,103.72 249.92,101.98 250.30,101.95 250.70,102.14 251.10,100.21 251.50,100.50 251.90,98.75 252.30,97.00 252.80,92.00 253.30,80.00 253.70,60.00 254.10,30.01 254.44,30.71 254.78,30.21 255.12,30.71 255.47,30.45 255.81,31.17 256.15,31.18 256.49,30.41 256.83,31.25 257.18,30.95 257.52,30.27 257.86,31.87 258.20,31.00 258.70,60.00 259.20,80.00 259.80,92.00 260.40,97.00 260.85,98.75 261.30,99.99 261.64,100.30 261.98,100.69 262.32,102.28 262.66,103.24 263.00,103.56 263.35,102.97 263.69,102.87 264.04,102.53 264.38,103.97 264.73,103.97 265.08,103.72 265.42,104.48 265.77,104.24 266.12,105.40 266.46,105.16 266.81,104.36 267.15,105.84 267.50,104.29 267.85,105.24 268.20,104.97 268.55,104.62 268.90,104.24 269.25,105.66 269.60,104.10 269.95,105.16 270.30,105.92 270.65,104.30 271.00,104.40 271.36,104.22 271.72,103.01 272.08,102.28 272.44,101.63 272.80,100.00 273.20,97.50 273.60,95.00 274.00,92.50 274.40,90.00 274.80,88.27 275.20,86.53 275.60,84.80 276.00,86.53 276.40,88.27 276.80,90.00 277.20,92.50 277.60,95.00 278.00,97.50 278.40,100.00 278.75,101.38 279.10,102.75 279.45,104.12 279.80,104.85 280.16,105.37 280.51,105.61 280.87,105.36 281.22,107.30 281.58,107.34 281.93,107.46 282.29,106.30 282.64,108.23 283.00,108.29 283.33,107.76 283.67,108.34 284.00,107.79 284.33,107.37 284.67,107.15 285.00,107.44 285.33,107.08 285.67,107.70 286.00,108.56 286.33,108.48 286.67,108.80 287.00,108.57 287.33,107.70 287.67,108.31 288.00,108.10 288.33,108.83 288.67,108.33 289.00,107.84 289.33,108.63 289.67,109.30 290.00,107.83 290.33,109.17 290.67,107.46 291.00,107.96 291.33,107.93 291.67,108.95 292.00,109.37 292.33,108.99 292.67,108.16 293.00,109.28 293.33,108.19 293.67,108.03 294.00,109.38 294.33,108.83 294.67,108.97 295.00,108.93 295.33,109.57 295.67,108.57 296.00,109.32 296.33,109.05 296.67,109.38 297.00,108.55 297.33,109.14 297.67,108.85 298.00,108.34 298.33,108.16 298.67,108.99 299.00,107.92 299.33,109.59 299.67,108.08 300.00,107.85 300.33,108.03 300.66,109.69 300.99,108.54 301.32,108.15 301.65,107.94 301.98,107.99 302.31,109.31 302.64,109.21 302.97,109.35 303.30,109.45 303.63,108.12 303.97,109.19 304.30,108.75 304.63,109.68 304.96,109.70 305.29,109.86 305.62,108.23 305.95,109.85 306.28,109.96 306.61,110.04 306.94,108.38 307.27,108.59 307.60,108.42 307.93,108.29 308.26,109.93 308.59,109.88 308.92,109.54 309.25,109.94 309.58,109.57 309.91,108.90 310.24,108.54 310.57,108.55 310.90,109.89 311.23,108.80 311.57,109.05 311.90,109.27 312.23,108.49 312.56,108.97 312.89,109.04 313.22,109.93 313.55,109.25 313.88,109.17 314.21,110.48 314.54,109.57 314.87,110.29 315.20,109.60" fill="none" stroke="#1a1aff" stroke-width="1.5" stroke-linejoin="round" />
<line x1="235.6" y1="103" x2="235.6" y2="31" stroke="#1a1aff" stroke-width="1.1" />
<polygon points="254.9,31 257.4,31 257.2,60 255.1,60" fill="#903070" opacity="0.5"/>
</g>
<rect x="182.2" y="31.5" width="133.0" height="221.7" fill="none" stroke="#8a8a8a" stroke-width="0.9"/>
<line x1="181.75" y1="253.2" x2="315.65" y2="253.2" stroke="#444" stroke-width="1.1" />
<line x1="185.15555555555554" y1="253.2" x2="185.15555555555554" y2="254.39999999999998" stroke="#444" stroke-width="0.8" />
<line x1="191.06666666666666" y1="253.2" x2="191.06666666666666" y2="254.39999999999998" stroke="#444" stroke-width="0.8" />
<line x1="196.97777777777776" y1="253.2" x2="196.97777777777776" y2="255.39999999999998" stroke="#444" stroke-width="0.8" />
<line x1="202.88888888888889" y1="253.2" x2="202.88888888888889" y2="254.39999999999998" stroke="#444" stroke-width="0.8" />
<line x1="208.79999999999998" y1="253.2" x2="208.79999999999998" y2="254.39999999999998" stroke="#444" stroke-width="0.8" />
<line x1="214.7111111111111" y1="253.2" x2="214.7111111111111" y2="254.39999999999998" stroke="#444" stroke-width="0.8" />
<line x1="220.6222222222222" y1="253.2" x2="220.6222222222222" y2="254.39999999999998" stroke="#444" stroke-width="0.8" />
<line x1="226.53333333333333" y1="253.2" x2="226.53333333333333" y2="255.39999999999998" stroke="#444" stroke-width="0.8" />
<line x1="232.44444444444443" y1="253.2" x2="232.44444444444443" y2="254.39999999999998" stroke="#444" stroke-width="0.8" />
<line x1="238.35555555555555" y1="253.2" x2="238.35555555555555" y2="254.39999999999998" stroke="#444" stroke-width="0.8" />
<line x1="244.26666666666665" y1="253.2" x2="244.26666666666665" y2="254.39999999999998" stroke="#444" stroke-width="0.8" />
<line x1="250.17777777777775" y1="253.2" x2="250.17777777777775" y2="254.39999999999998" stroke="#444" stroke-width="0.8" />
<line x1="256.08888888888885" y1="253.2" x2="256.08888888888885" y2="255.39999999999998" stroke="#444" stroke-width="0.8" />
<line x1="262.0" y1="253.2" x2="262.0" y2="254.39999999999998" stroke="#444" stroke-width="0.8" />
<line x1="267.9111111111111" y1="253.2" x2="267.9111111111111" y2="254.39999999999998" stroke="#444" stroke-width="0.8" />
<line x1="273.8222222222222" y1="253.2" x2="273.8222222222222" y2="254.39999999999998" stroke="#444" stroke-width="0.8" />
<line x1="279.73333333333335" y1="253.2" x2="279.73333333333335" y2="254.39999999999998" stroke="#444" stroke-width="0.8" />
<line x1="285.64444444444445" y1="253.2" x2="285.64444444444445" y2="255.39999999999998" stroke="#444" stroke-width="0.8" />
<line x1="291.55555555555554" y1="253.2" x2="291.55555555555554" y2="254.39999999999998" stroke="#444" stroke-width="0.8" />
<line x1="297.46666666666664" y1="253.2" x2="297.46666666666664" y2="254.39999999999998" stroke="#444" stroke-width="0.8" />
<line x1="303.37777777777774" y1="253.2" x2="303.37777777777774" y2="254.39999999999998" stroke="#444" stroke-width="0.8" />
<line x1="309.2888888888889" y1="253.2" x2="309.2888888888889" y2="254.39999999999998" stroke="#444" stroke-width="0.8" />
<line x1="315.2" y1="253.2" x2="315.2" y2="255.39999999999998" stroke="#444" stroke-width="0.8" />
<text x="196.97777777777776" y="265.5" font-size="9" fill="#222" text-anchor="middle" font-weight="normal" font-family='"Liberation Sans", sans-serif' >20</text>
<text x="226.53333333333333" y="265.5" font-size="9" fill="#222" text-anchor="middle" font-weight="normal" font-family='"Liberation Sans", sans-serif' >30</text>
<text x="256.08888888888885" y="265.5" font-size="9" fill="#222" text-anchor="middle" font-weight="normal" font-family='"Liberation Sans", sans-serif' >40</text>
<text x="285.64444444444445" y="265.5" font-size="9" fill="#222" text-anchor="middle" font-weight="normal" font-family='"Liberation Sans", sans-serif' >50</text>
<text x="315.2" y="265.5" font-size="9" fill="#222" text-anchor="middle" font-weight="normal" font-family='"Liberation Sans", sans-serif' >60</text>
<text x="248.5" y="276.3" font-size="10.5" fill="#222" text-anchor="middle" font-weight="normal" font-family='"Liberation Sans", sans-serif' >2θ / degree (CuKα)</text>
<text transform="translate(178.2,138.5) rotate(-90)" font-size="11" fill="#222" text-anchor="middle" font-family='"Liberation Sans", sans-serif'>Intensity / a. u.</text>
<text x="184.7" y="84.8" font-size="9.5" fill="#2020ff" text-anchor="start" font-weight="normal" font-family='"Liberation Sans", sans-serif' >CL</text>
<text x="184.3" y="119.6" font-size="9.5" fill="#ff2020" text-anchor="start" font-weight="normal" font-family='"Liberation Sans", sans-serif' >RT</text>
<text x="184.4" y="154.7" font-size="10.5" fill="#222" text-anchor="start" font-weight="normal" font-family='"Liberation Sans", sans-serif' >Pt/Ti/Si</text>
<text x="203" y="130.39000000000001" font-size="17" fill="#ff2020" text-anchor="middle" font-weight="normal" font-family='"Liberation Sans", sans-serif' >*</text>
<text x="231.6" y="127.59" font-size="17" fill="#ff2020" text-anchor="middle" font-weight="normal" font-family='"Liberation Sans", sans-serif' >*</text>
<text x="239.4" y="133.89000000000001" font-size="17" fill="#ff2020" text-anchor="middle" font-weight="normal" font-family='"Liberation Sans", sans-serif' >*</text>
<text x="249.6" y="182.3" font-size="6.8" fill="#333" font-family='"Liberation Sans", sans-serif'>LiPO<tspan font-size="4.4" dy="1.3">3</tspan><tspan dy="-1.3"></tspan></text>
<text x="273.8" y="182.3" font-size="6.8" fill="#333" font-family='"Liberation Sans", sans-serif'>ICSD-638</text>
<text x="249.6" y="198.0" font-size="6.8" fill="#333" font-family='"Liberation Sans", sans-serif'>Li<tspan font-size="4.4" dy="1.3">4</tspan><tspan dy="-1.3"></tspan>P<tspan font-size="4.4" dy="1.3">2</tspan><tspan dy="-1.3"></tspan>O<tspan font-size="4.4" dy="1.3">7</tspan><tspan dy="-1.3"></tspan></text>
<text x="273.8" y="198.0" font-size="6.8" fill="#333" font-family='"Liberation Sans", sans-serif'>ICSD-39814</text>
<text x="249.6" y="213.0" font-size="6.8" fill="#333" font-family='"Liberation Sans", sans-serif'>Li<tspan font-size="4.4" dy="1.3">3</tspan><tspan dy="-1.3"></tspan>PO<tspan font-size="4.4" dy="1.3">4</tspan><tspan dy="-1.3"></tspan></text>
<text x="273.8" y="213.0" font-size="6.8" fill="#333" font-family='"Liberation Sans", sans-serif'>ICSD-20208</text>
<text x="249.6" y="227.4" font-size="6.8" fill="#333" font-family='"Liberation Sans", sans-serif'>Li<tspan font-size="4.4" dy="1.3">2</tspan><tspan dy="-1.3"></tspan>CO<tspan font-size="4.4" dy="1.3">3</tspan><tspan dy="-1.3"></tspan></text>
<text x="273.8" y="227.4" font-size="6.8" fill="#333" font-family='"Liberation Sans", sans-serif'>ICSD-66942</text>
<text x="249.6" y="246.4" font-size="6.8" fill="#333" font-family='"Liberation Sans", sans-serif'>Li<tspan font-size="4.4" dy="1.3">2</tspan><tspan dy="-1.3"></tspan>O</text>
<text x="273.8" y="246.4" font-size="6.8" fill="#333" font-family='"Liberation Sans", sans-serif'>ICSD-182026</text>
<text x="347.0" y="30.0" font-size="11" fill="#000" text-anchor="start" font-weight="bold" font-family='"Liberation Sans", sans-serif' >d</text>
<rect x="342.7" y="34.3" width="89.5" height="89.10000000000001" fill="none" stroke="#8a8a8a" stroke-width="0.9"/>
<line x1="342.7" y1="33.9" x2="342.7" y2="123.80000000000001" stroke="#444" stroke-width="1" />
<line x1="342.3" y1="123.4" x2="432.59999999999997" y2="123.4" stroke="#444" stroke-width="1" />
<line x1="342.7" y1="123.4" x2="342.7" y2="121.60000000000001" stroke="#444" stroke-width="0.7" />
<line x1="342.7" y1="123.4" x2="344.5" y2="123.4" stroke="#444" stroke-width="0.7" />
<line x1="347.175" y1="123.4" x2="347.175" y2="122.4" stroke="#444" stroke-width="0.7" />
<line x1="342.7" y1="118.94500000000001" x2="343.7" y2="118.94500000000001" stroke="#444" stroke-width="0.7" />
<line x1="351.65" y1="123.4" x2="351.65" y2="122.4" stroke="#444" stroke-width="0.7" />
<line x1="342.7" y1="114.49000000000001" x2="343.7" y2="114.49000000000001" stroke="#444" stroke-width="0.7" />
<line x1="356.125" y1="123.4" x2="356.125" y2="122.4" stroke="#444" stroke-width="0.7" />
<line x1="342.7" y1="110.03500000000001" x2="343.7" y2="110.03500000000001" stroke="#444" stroke-width="0.7" />
<line x1="360.59999999999997" y1="123.4" x2="360.59999999999997" y2="121.60000000000001" stroke="#444" stroke-width="0.7" />
<line x1="342.7" y1="105.58000000000001" x2="344.5" y2="105.58000000000001" stroke="#444" stroke-width="0.7" />
<line x1="365.075" y1="123.4" x2="365.075" y2="122.4" stroke="#444" stroke-width="0.7" />
<line x1="342.7" y1="101.125" x2="343.7" y2="101.125" stroke="#444" stroke-width="0.7" />
<line x1="369.55" y1="123.4" x2="369.55" y2="122.4" stroke="#444" stroke-width="0.7" />
<line x1="342.7" y1="96.67" x2="343.7" y2="96.67" stroke="#444" stroke-width="0.7" />
<line x1="374.025" y1="123.4" x2="374.025" y2="122.4" stroke="#444" stroke-width="0.7" />
<line x1="342.7" y1="92.215" x2="343.7" y2="92.215" stroke="#444" stroke-width="0.7" />
<line x1="378.5" y1="123.4" x2="378.5" y2="121.60000000000001" stroke="#444" stroke-width="0.7" />
<line x1="342.7" y1="87.76" x2="344.5" y2="87.76" stroke="#444" stroke-width="0.7" />
<line x1="382.97499999999997" y1="123.4" x2="382.97499999999997" y2="122.4" stroke="#444" stroke-width="0.7" />
<line x1="342.7" y1="83.305" x2="343.7" y2="83.305" stroke="#444" stroke-width="0.7" />
<line x1="387.45" y1="123.4" x2="387.45" y2="122.4" stroke="#444" stroke-width="0.7" />
<line x1="342.7" y1="78.85000000000001" x2="343.7" y2="78.85000000000001" stroke="#444" stroke-width="0.7" />
<line x1="391.92499999999995" y1="123.4" x2="391.92499999999995" y2="122.4" stroke="#444" stroke-width="0.7" />
<line x1="342.7" y1="74.39500000000001" x2="343.7" y2="74.39500000000001" stroke="#444" stroke-width="0.7" />
<line x1="396.4" y1="123.4" x2="396.4" y2="121.60000000000001" stroke="#444" stroke-width="0.7" />
<line x1="342.7" y1="69.94" x2="344.5" y2="69.94" stroke="#444" stroke-width="0.7" />
<line x1="400.875" y1="123.4" x2="400.875" y2="122.4" stroke="#444" stroke-width="0.7" />
<line x1="342.7" y1="65.48500000000001" x2="343.7" y2="65.48500000000001" stroke="#444" stroke-width="0.7" />
<line x1="405.34999999999997" y1="123.4" x2="405.34999999999997" y2="122.4" stroke="#444" stroke-width="0.7" />
<line x1="342.7" y1="61.03" x2="343.7" y2="61.03" stroke="#444" stroke-width="0.7" />
<line x1="409.825" y1="123.4" x2="409.825" y2="122.4" stroke="#444" stroke-width="0.7" />
<line x1="342.7" y1="56.575" x2="343.7" y2="56.575" stroke="#444" stroke-width="0.7" />
<line x1="414.29999999999995" y1="123.4" x2="414.29999999999995" y2="121.60000000000001" stroke="#444" stroke-width="0.7" />
<line x1="342.7" y1="52.120000000000005" x2="344.5" y2="52.120000000000005" stroke="#444" stroke-width="0.7" />
<line x1="418.775" y1="123.4" x2="418.775" y2="122.4" stroke="#444" stroke-width="0.7" />
<line x1="342.7" y1="47.665000000000006" x2="343.7" y2="47.665000000000006" stroke="#444" stroke-width="0.7" />
<line x1="423.25" y1="123.4" x2="423.25" y2="122.4" stroke="#444" stroke-width="0.7" />
<line x1="342.7" y1="43.21000000000001" x2="343.7" y2="43.21000000000001" stroke="#444" stroke-width="0.7" />
<line x1="427.72499999999997" y1="123.4" x2="427.72499999999997" y2="122.4" stroke="#444" stroke-width="0.7" />
<line x1="342.7" y1="38.75500000000001" x2="343.7" y2="38.75500000000001" stroke="#444" stroke-width="0.7" />
<line x1="432.2" y1="123.4" x2="432.2" y2="121.60000000000001" stroke="#444" stroke-width="0.7" />
<line x1="342.7" y1="34.30000000000001" x2="344.5" y2="34.30000000000001" stroke="#444" stroke-width="0.7" />
<text x="342.7" y="133.8" font-size="10.2" fill="#222" text-anchor="middle" font-weight="normal" font-family='"Liberation Sans", sans-serif' >0</text>
<text x="340.4" y="127.2" font-size="10.2" fill="#222" text-anchor="end" font-weight="normal" font-family='"Liberation Sans", sans-serif' >0</text>
<text x="360.59999999999997" y="133.8" font-size="10.2" fill="#222" text-anchor="middle" font-weight="normal" font-family='"Liberation Sans", sans-serif' >2</text>
<text x="340.4" y="109.38000000000001" font-size="10.2" fill="#222" text-anchor="end" font-weight="normal" font-family='"Liberation Sans", sans-serif' >2</text>
<text x="378.5" y="133.8" font-size="10.2" fill="#222" text-anchor="middle" font-weight="normal" font-family='"Liberation Sans", sans-serif' >4</text>
<text x="340.4" y="91.56" font-size="10.2" fill="#222" text-anchor="end" font-weight="normal" font-family='"Liberation Sans", sans-serif' >4</text>
<text x="396.4" y="133.8" font-size="10.2" fill="#222" text-anchor="middle" font-weight="normal" font-family='"Liberation Sans", sans-serif' >6</text>
<text x="340.4" y="73.74" font-size="10.2" fill="#222" text-anchor="end" font-weight="normal" font-family='"Liberation Sans", sans-serif' >6</text>
<text x="414.29999999999995" y="133.8" font-size="10.2" fill="#222" text-anchor="middle" font-weight="normal" font-family='"Liberation Sans", sans-serif' >8</text>
<text x="340.4" y="55.92" font-size="10.2" fill="#222" text-anchor="end" font-weight="normal" font-family='"Liberation Sans", sans-serif' >8</text>
<text x="432.2" y="133.8" font-size="10.2" fill="#222" text-anchor="middle" font-weight="normal" font-family='"Liberation Sans", sans-serif' >10</text>
<text x="340.4" y="38.10000000000001" font-size="10.2" fill="#222" text-anchor="end" font-weight="normal" font-family='"Liberation Sans", sans-serif' >10</text>
<text x="387.95" y="144" font-size="10.3" fill="#222" text-anchor="middle" font-weight="normal" font-family='"Liberation Sans", sans-serif' >Z' / kΩ</text>
<text transform="translate(329.2,79) rotate(-90)" font-size="10.9" fill="#222" text-anchor="middle" font-family='"Liberation Sans", sans-serif'>-Z'' / kΩ</text>
<circle cx="358.5" cy="42.2" r="1.5" fill="#000"/>
<text x="364.8" y="45.8" font-size="10.5" fill="#222" text-anchor="start" font-weight="normal" font-family='"Liberation Sans", sans-serif' >3.0 V</text>
<text x="408" y="116.2" font-size="12" fill="#2020ff" text-anchor="start" font-weight="normal" font-family='"Liberation Sans", sans-serif' >CL</text>
<circle cx="345.20" cy="116.60" r="0.8" fill="#000"/>
<circle cx="345.70" cy="115.40" r="0.8" fill="#000"/>
<circle cx="346.20" cy="114.20" r="0.8" fill="#000"/>
<circle cx="346.75" cy="113.20" r="0.8" fill="#000"/>
<circle cx="347.30" cy="112.20" r="0.8" fill="#000"/>
<circle cx="348.00" cy="111.13" r="0.8" fill="#000"/>
<circle cx="348.70" cy="110.07" r="0.8" fill="#000"/>
<circle cx="349.40" cy="109.00" r="0.8" fill="#000"/>
<circle cx="350.17" cy="108.20" r="0.8" fill="#000"/>
<circle cx="350.95" cy="107.40" r="0.8" fill="#000"/>
<circle cx="351.73" cy="106.60" r="0.8" fill="#000"/>
<circle cx="352.50" cy="105.80" r="0.8" fill="#000"/>
<circle cx="353.55" cy="105.15" r="0.8" fill="#000"/>
<circle cx="354.60" cy="104.50" r="0.8" fill="#000"/>
<circle cx="355.65" cy="103.85" r="0.8" fill="#000"/>
<circle cx="356.70" cy="103.20" r="0.8" fill="#000"/>
<circle cx="357.77" cy="102.75" r="0.8" fill="#000"/>
<circle cx="358.85" cy="102.30" r="0.8" fill="#000"/>
<circle cx="359.93" cy="101.85" r="0.8" fill="#000"/>
<circle cx="361.00" cy="101.40" r="0.8" fill="#000"/>
<circle cx="362.04" cy="101.08" r="0.8" fill="#000"/>
<circle cx="363.08" cy="100.76" r="0.8" fill="#000"/>
<circle cx="364.12" cy="100.44" r="0.8" fill="#000"/>
<circle cx="365.16" cy="100.12" r="0.8" fill="#000"/>
<circle cx="366.20" cy="99.80" r="0.8" fill="#000"/>
<circle cx="367.25" cy="99.67" r="0.8" fill="#000"/>
<circle cx="368.30" cy="99.53" r="0.8" fill="#000"/>
<circle cx="369.35" cy="99.40" r="0.8" fill="#000"/>
<circle cx="370.40" cy="99.27" r="0.8" fill="#000"/>
<circle cx="371.45" cy="99.13" r="0.8" fill="#000"/>
<circle cx="372.50" cy="99.00" r="0.8" fill="#000"/>
<circle cx="373.56" cy="99.14" r="0.8" fill="#000"/>
<circle cx="374.62" cy="99.28" r="0.8" fill="#000"/>
<circle cx="375.68" cy="99.42" r="0.8" fill="#000"/>
<circle cx="376.74" cy="99.56" r="0.8" fill="#000"/>
<circle cx="377.80" cy="99.70" r="0.8" fill="#000"/>
<circle cx="378.84" cy="99.90" r="0.8" fill="#000"/>
<circle cx="379.88" cy="100.10" r="0.8" fill="#000"/>
<circle cx="380.92" cy="100.30" r="0.8" fill="#000"/>
<circle cx="381.96" cy="100.50" r="0.8" fill="#000"/>
<circle cx="383.00" cy="100.70" r="0.8" fill="#000"/>
<circle cx="384.07" cy="101.13" r="0.8" fill="#000"/>
<circle cx="385.13" cy="101.57" r="0.8" fill="#000"/>
<circle cx="386.20" cy="102.00" r="0.8" fill="#000"/>
<circle cx="387.25" cy="101.80" r="0.8" fill="#000"/>
<circle cx="388.30" cy="101.60" r="0.8" fill="#000"/>
<circle cx="389.30" cy="100.00" r="0.8" fill="#000"/>
<circle cx="389.90" cy="98.30" r="0.8" fill="#000"/>
<circle cx="390.10" cy="97.25" r="0.8" fill="#000"/>
<circle cx="390.30" cy="96.20" r="0.8" fill="#000"/>
<circle cx="390.60" cy="94.80" r="0.8" fill="#000"/>
<circle cx="394.70" cy="39.70" r="0.85" fill="#000"/>
<circle cx="394.70" cy="47.10" r="0.85" fill="#000"/>
<circle cx="393.90" cy="53.40" r="0.85" fill="#000"/>
<circle cx="392.90" cy="59.70" r="0.85" fill="#000"/>
<circle cx="393.30" cy="64.30" r="0.85" fill="#000"/>
<circle cx="393.00" cy="69.70" r="0.85" fill="#000"/>
<circle cx="392.60" cy="74.40" r="0.85" fill="#000"/>
<circle cx="392.30" cy="78.70" r="0.85" fill="#000"/>
<circle cx="392.10" cy="81.70" r="0.85" fill="#000"/>
<circle cx="391.80" cy="84.70" r="0.85" fill="#000"/>
<circle cx="391.50" cy="87.30" r="0.85" fill="#000"/>
<circle cx="391.30" cy="89.70" r="0.85" fill="#000"/>
<circle cx="391.00" cy="92.00" r="0.85" fill="#000"/>
<text x="344.4" y="109.4" font-size="7.5" fill="#222" text-anchor="start" font-weight="normal" font-family='"Liberation Sans", sans-serif' >5</text>
<text x="385.0" y="96.4" font-size="7.5" fill="#222" text-anchor="start" font-weight="normal" font-family='"Liberation Sans", sans-serif' >4</text>
<text x="396.6" y="56.6" font-size="7.5" fill="#222" text-anchor="start" font-weight="normal" font-family='"Liberation Sans", sans-serif' >3</text>
<text x="346.8" y="155.4" font-size="11" fill="#000" text-anchor="start" font-weight="bold" font-family='"Liberation Sans", sans-serif' >e</text>
<rect x="342.7" y="158.7" width="89.69999999999999" height="88.5" fill="none" stroke="#8a8a8a" stroke-width="0.9"/>
<line x1="342.7" y1="158.29999999999998" x2="342.7" y2="247.6" stroke="#444" stroke-width="1" />
<line x1="342.3" y1="247.2" x2="432.79999999999995" y2="247.2" stroke="#444" stroke-width="1" />
<line x1="342.7" y1="247.2" x2="342.7" y2="245.39999999999998" stroke="#444" stroke-width="0.7" />
<line x1="342.7" y1="247.2" x2="344.5" y2="247.2" stroke="#444" stroke-width="0.7" />
<line x1="347.185" y1="247.2" x2="347.185" y2="246.2" stroke="#444" stroke-width="0.7" />
<line x1="342.7" y1="242.77499999999998" x2="343.7" y2="242.77499999999998" stroke="#444" stroke-width="0.7" />
<line x1="351.66999999999996" y1="247.2" x2="351.66999999999996" y2="246.2" stroke="#444" stroke-width="0.7" />
<line x1="342.7" y1="238.35" x2="343.7" y2="238.35" stroke="#444" stroke-width="0.7" />
<line x1="356.155" y1="247.2" x2="356.155" y2="246.2" stroke="#444" stroke-width="0.7" />
<line x1="342.7" y1="233.92499999999998" x2="343.7" y2="233.92499999999998" stroke="#444" stroke-width="0.7" />
<line x1="360.64" y1="247.2" x2="360.64" y2="245.39999999999998" stroke="#444" stroke-width="0.7" />
<line x1="342.7" y1="229.5" x2="344.5" y2="229.5" stroke="#444" stroke-width="0.7" />
<line x1="365.125" y1="247.2" x2="365.125" y2="246.2" stroke="#444" stroke-width="0.7" />
<line x1="342.7" y1="225.075" x2="343.7" y2="225.075" stroke="#444" stroke-width="0.7" />
<line x1="369.61" y1="247.2" x2="369.61" y2="246.2" stroke="#444" stroke-width="0.7" />
<line x1="342.7" y1="220.64999999999998" x2="343.7" y2="220.64999999999998" stroke="#444" stroke-width="0.7" />
<line x1="374.09499999999997" y1="247.2" x2="374.09499999999997" y2="246.2" stroke="#444" stroke-width="0.7" />
<line x1="342.7" y1="216.225" x2="343.7" y2="216.225" stroke="#444" stroke-width="0.7" />
<line x1="378.58" y1="247.2" x2="378.58" y2="245.39999999999998" stroke="#444" stroke-width="0.7" />
<line x1="342.7" y1="211.79999999999998" x2="344.5" y2="211.79999999999998" stroke="#444" stroke-width="0.7" />
<line x1="383.065" y1="247.2" x2="383.065" y2="246.2" stroke="#444" stroke-width="0.7" />
<line x1="342.7" y1="207.375" x2="343.7" y2="207.375" stroke="#444" stroke-width="0.7" />
<line x1="387.54999999999995" y1="247.2" x2="387.54999999999995" y2="246.2" stroke="#444" stroke-width="0.7" />
<line x1="342.7" y1="202.95" x2="343.7" y2="202.95" stroke="#444" stroke-width="0.7" />
<line x1="392.03499999999997" y1="247.2" x2="392.03499999999997" y2="246.2" stroke="#444" stroke-width="0.7" />
<line x1="342.7" y1="198.52499999999998" x2="343.7" y2="198.52499999999998" stroke="#444" stroke-width="0.7" />
<line x1="396.52" y1="247.2" x2="396.52" y2="245.39999999999998" stroke="#444" stroke-width="0.7" />
<line x1="342.7" y1="194.1" x2="344.5" y2="194.1" stroke="#444" stroke-width="0.7" />
<line x1="401.005" y1="247.2" x2="401.005" y2="246.2" stroke="#444" stroke-width="0.7" />
<line x1="342.7" y1="189.67499999999998" x2="343.7" y2="189.67499999999998" stroke="#444" stroke-width="0.7" />
<line x1="405.49" y1="247.2" x2="405.49" y2="246.2" stroke="#444" stroke-width="0.7" />
<line x1="342.7" y1="185.25" x2="343.7" y2="185.25" stroke="#444" stroke-width="0.7" />
<line x1="409.97499999999997" y1="247.2" x2="409.97499999999997" y2="246.2" stroke="#444" stroke-width="0.7" />
<line x1="342.7" y1="180.825" x2="343.7" y2="180.825" stroke="#444" stroke-width="0.7" />
<line x1="414.46" y1="247.2" x2="414.46" y2="245.39999999999998" stroke="#444" stroke-width="0.7" />
<line x1="342.7" y1="176.39999999999998" x2="344.5" y2="176.39999999999998" stroke="#444" stroke-width="0.7" />
<line x1="418.945" y1="247.2" x2="418.945" y2="246.2" stroke="#444" stroke-width="0.7" />
<line x1="342.7" y1="171.975" x2="343.7" y2="171.975" stroke="#444" stroke-width="0.7" />
<line x1="423.42999999999995" y1="247.2" x2="423.42999999999995" y2="246.2" stroke="#444" stroke-width="0.7" />
<line x1="342.7" y1="167.54999999999998" x2="343.7" y2="167.54999999999998" stroke="#444" stroke-width="0.7" />
<line x1="427.91499999999996" y1="247.2" x2="427.91499999999996" y2="246.2" stroke="#444" stroke-width="0.7" />
<line x1="342.7" y1="163.125" x2="343.7" y2="163.125" stroke="#444" stroke-width="0.7" />
<line x1="432.4" y1="247.2" x2="432.4" y2="245.39999999999998" stroke="#444" stroke-width="0.7" />
<line x1="342.7" y1="158.7" x2="344.5" y2="158.7" stroke="#444" stroke-width="0.7" />
<text x="342.7" y="257.5" font-size="10.2" fill="#222" text-anchor="middle" font-weight="normal" font-family='"Liberation Sans", sans-serif' >0</text>
<text x="340.4" y="251.0" font-size="10.2" fill="#222" text-anchor="end" font-weight="normal" font-family='"Liberation Sans", sans-serif' >0</text>
<text x="360.64" y="257.5" font-size="10.2" fill="#222" text-anchor="middle" font-weight="normal" font-family='"Liberation Sans", sans-serif' >5</text>
<text x="340.4" y="233.3" font-size="10.2" fill="#222" text-anchor="end" font-weight="normal" font-family='"Liberation Sans", sans-serif' >5</text>
<text x="378.58" y="257.5" font-size="10.2" fill="#222" text-anchor="middle" font-weight="normal" font-family='"Liberation Sans", sans-serif' >10</text>
<text x="340.4" y="215.6" font-size="10.2" fill="#222" text-anchor="end" font-weight="normal" font-family='"Liberation Sans", sans-serif' >10</text>
<text x="396.52" y="257.5" font-size="10.2" fill="#222" text-anchor="middle" font-weight="normal" font-family='"Liberation Sans", sans-serif' >15</text>
<text x="340.4" y="197.9" font-size="10.2" fill="#222" text-anchor="end" font-weight="normal" font-family='"Liberation Sans", sans-serif' >15</text>
<text x="414.46" y="257.5" font-size="10.2" fill="#222" text-anchor="middle" font-weight="normal" font-family='"Liberation Sans", sans-serif' >20</text>
<text x="340.4" y="180.2" font-size="10.2" fill="#222" text-anchor="end" font-weight="normal" font-family='"Liberation Sans", sans-serif' >20</text>
<text x="432.4" y="257.5" font-size="10.2" fill="#222" text-anchor="middle" font-weight="normal" font-family='"Liberation Sans", sans-serif' >25</text>
<text x="340.4" y="162.5" font-size="10.2" fill="#222" text-anchor="end" font-weight="normal" font-family='"Liberation Sans", sans-serif' >25</text>
<text x="388.04999999999995" y="267.8" font-size="10.3" fill="#222" text-anchor="middle" font-weight="normal" font-family='"Liberation Sans", sans-serif' >Z' / kΩ</text>
<text transform="translate(329.2,204.3) rotate(-90)" font-size="10.9" fill="#222" text-anchor="middle" font-family='"Liberation Sans", sans-serif'>-Z'' / kΩ</text>
<circle cx="359.4" cy="166.0" r="1.5" fill="#000"/>
<text x="365.7" y="169.2" font-size="10.5" fill="#222" text-anchor="start" font-weight="normal" font-family='"Liberation Sans", sans-serif' >3.0 V</text>
<text x="408" y="241.5" font-size="12" fill="#ff2020" text-anchor="start" font-weight="normal" font-family='"Liberation Sans", sans-serif' >RT</text>
<circle cx="343.20" cy="245.50" r="0.8" fill="#000"/>
<circle cx="343.60" cy="243.70" r="0.8" fill="#000"/>
<circle cx="343.95" cy="242.70" r="0.8" fill="#000"/>
<circle cx="344.30" cy="241.70" r="0.8" fill="#000"/>
<circle cx="344.75" cy="240.75" r="0.8" fill="#000"/>
<circle cx="345.20" cy="239.80" r="0.8" fill="#000"/>
<circle cx="345.77" cy="238.80" r="0.8" fill="#000"/>
<circle cx="346.35" cy="237.80" r="0.8" fill="#000"/>
<circle cx="346.93" cy="236.80" r="0.8" fill="#000"/>
<circle cx="347.50" cy="235.80" r="0.8" fill="#000"/>
<circle cx="348.30" cy="235.12" r="0.8" fill="#000"/>
<circle cx="349.10" cy="234.45" r="0.8" fill="#000"/>
<circle cx="349.90" cy="233.78" r="0.8" fill="#000"/>
<circle cx="350.70" cy="233.10" r="0.8" fill="#000"/>
<circle cx="351.73" cy="232.57" r="0.8" fill="#000"/>
<circle cx="352.77" cy="232.03" r="0.8" fill="#000"/>
<circle cx="353.80" cy="231.50" r="0.8" fill="#000"/>
<circle cx="354.80" cy="230.80" r="0.8" fill="#000"/>
<circle cx="355.80" cy="230.10" r="0.8" fill="#000"/>
<circle cx="356.80" cy="229.40" r="0.8" fill="#000"/>
<circle cx="357.80" cy="228.70" r="0.8" fill="#000"/>
<circle cx="358.74" cy="228.06" r="0.8" fill="#000"/>
<circle cx="359.68" cy="227.42" r="0.8" fill="#000"/>
<circle cx="360.62" cy="226.78" r="0.8" fill="#000"/>
<circle cx="361.56" cy="226.14" r="0.8" fill="#000"/>
<circle cx="362.50" cy="225.50" r="0.8" fill="#000"/>
<circle cx="363.43" cy="225.12" r="0.8" fill="#000"/>
<circle cx="364.37" cy="224.73" r="0.8" fill="#000"/>
<circle cx="365.30" cy="224.35" r="0.8" fill="#000"/>
<circle cx="366.23" cy="223.97" r="0.8" fill="#000"/>
<circle cx="367.17" cy="223.58" r="0.8" fill="#000"/>
<circle cx="368.10" cy="223.20" r="0.8" fill="#000"/>
<circle cx="369.02" cy="222.75" r="0.8" fill="#000"/>
<circle cx="369.93" cy="222.30" r="0.8" fill="#000"/>
<circle cx="370.85" cy="221.85" r="0.8" fill="#000"/>
<circle cx="371.77" cy="221.40" r="0.8" fill="#000"/>
<circle cx="372.68" cy="220.95" r="0.8" fill="#000"/>
<circle cx="373.60" cy="220.50" r="0.8" fill="#000"/>
<circle cx="374.67" cy="219.80" r="0.8" fill="#000"/>
<circle cx="375.73" cy="219.10" r="0.8" fill="#000"/>
<circle cx="376.80" cy="218.40" r="0.8" fill="#000"/>
<circle cx="377.77" cy="217.62" r="0.8" fill="#000"/>
<circle cx="378.75" cy="216.85" r="0.8" fill="#000"/>
<circle cx="379.73" cy="216.08" r="0.8" fill="#000"/>
<circle cx="380.70" cy="215.30" r="0.8" fill="#000"/>
<circle cx="381.60" cy="214.50" r="0.8" fill="#000"/>
<circle cx="382.50" cy="213.70" r="0.8" fill="#000"/>
<circle cx="383.40" cy="212.90" r="0.8" fill="#000"/>
<circle cx="384.07" cy="211.83" r="0.8" fill="#000"/>
<circle cx="384.73" cy="210.77" r="0.8" fill="#000"/>
<circle cx="385.40" cy="209.70" r="0.8" fill="#000"/>
<circle cx="385.93" cy="208.67" r="0.8" fill="#000"/>
<circle cx="386.47" cy="207.63" r="0.8" fill="#000"/>
<circle cx="387.00" cy="206.60" r="0.8" fill="#000"/>
<circle cx="387.80" cy="205.00" r="0.8" fill="#000"/>
<circle cx="397.70" cy="161.60" r="0.85" fill="#000"/>
<circle cx="397.00" cy="168.60" r="0.85" fill="#000"/>
<circle cx="394.60" cy="174.80" r="0.85" fill="#000"/>
<circle cx="397.00" cy="180.40" r="0.85" fill="#000"/>
<circle cx="394.20" cy="185.00" r="0.85" fill="#000"/>
<circle cx="392.80" cy="188.10" r="0.85" fill="#000"/>
<circle cx="391.30" cy="191.20" r="0.85" fill="#000"/>
<circle cx="391.90" cy="194.30" r="0.85" fill="#000"/>
<circle cx="391.30" cy="197.20" r="0.85" fill="#000"/>
<circle cx="390.00" cy="200.30" r="0.85" fill="#000"/>
<circle cx="388.80" cy="202.70" r="0.85" fill="#000"/>
<circle cx="387.30" cy="205.10" r="0.85" fill="#000"/>
<circle cx="385.50" cy="208.20" r="0.85" fill="#000"/>
<circle cx="354.00" cy="233.60" r="1.0" fill="#000"/>
<circle cx="377.20" cy="221.00" r="1.0" fill="#000"/>
<text x="344.5" y="234.0" font-size="7.5" fill="#222" text-anchor="start" font-weight="normal" font-family='"Liberation Sans", sans-serif' >5</text>
<text x="358.8" y="220.7" font-size="7.5" fill="#222" text-anchor="start" font-weight="normal" font-family='"Liberation Sans", sans-serif' >4</text>
<text x="384.0" y="191.7" font-size="7.5" fill="#222" text-anchor="start" font-weight="normal" font-family='"Liberation Sans", sans-serif' >3</text>
<text x="463.4" y="11.6" font-size="11" fill="#000" text-anchor="start" font-weight="bold" font-family='"Liberation Sans", sans-serif' >f</text>
<rect x="466.20" y="16.38" width="44.4" height="117.92" fill="#44ff00" stroke="#555" stroke-width="0.6"/>
<rect x="466.20" y="13.60" width="44.4" height="2.78" fill="#ff2200" stroke="#773322" stroke-width="0.5"/>
<rect x="521.90" y="126.82" width="44.4" height="7.48" fill="#c0c0c0" stroke="#555" stroke-width="0.6"/>
<rect x="521.90" y="13.60" width="44.4" height="113.22" fill="#44ff00" stroke="#555" stroke-width="0.6"/>
<rect x="577.60" y="94.83" width="44.4" height="39.47" fill="#c0c0c0" stroke="#555" stroke-width="0.6"/>
<rect x="577.60" y="13.60" width="44.4" height="81.23" fill="#44ff00" stroke="#555" stroke-width="0.6"/>
<rect x="633.20" y="72.98" width="44.4" height="61.32" fill="#c0c0c0" stroke="#555" stroke-width="0.6"/>
<rect x="633.20" y="13.60" width="44.4" height="59.38" fill="#44ff00" stroke="#555" stroke-width="0.6"/>
<rect x="460.2" y="13.6" width="223.59999999999997" height="120.70000000000002" fill="none" stroke="#8a8a8a" stroke-width="0.9"/>
<line x1="460.2" y1="13.6" x2="460.2" y2="134.3" stroke="#444" stroke-width="1" />
<line x1="460.2" y1="134.3" x2="683.8" y2="134.3" stroke="#444" stroke-width="1" />
<line x1="458.7" y1="134.3" x2="460.7" y2="134.3" stroke="#444" stroke-width="0.7" />
<line x1="458.7" y1="122.23" x2="460.7" y2="122.23" stroke="#444" stroke-width="0.7" />
<line x1="458.7" y1="110.16000000000001" x2="460.7" y2="110.16000000000001" stroke="#444" stroke-width="0.7" />
<line x1="458.7" y1="98.09" x2="460.7" y2="98.09" stroke="#444" stroke-width="0.7" />
<line x1="458.7" y1="86.02000000000001" x2="460.7" y2="86.02000000000001" stroke="#444" stroke-width="0.7" />
<line x1="458.7" y1="73.95" x2="460.7" y2="73.95" stroke="#444" stroke-width="0.7" />
<line x1="458.7" y1="61.88000000000001" x2="460.7" y2="61.88000000000001" stroke="#444" stroke-width="0.7" />
<line x1="458.7" y1="49.81" x2="460.7" y2="49.81" stroke="#444" stroke-width="0.7" />
<line x1="458.7" y1="37.739999999999995" x2="460.7" y2="37.739999999999995" stroke="#444" stroke-width="0.7" />
<line x1="458.7" y1="25.669999999999987" x2="460.7" y2="25.669999999999987" stroke="#444" stroke-width="0.7" />
<line x1="458.7" y1="13.599999999999994" x2="460.7" y2="13.599999999999994" stroke="#444" stroke-width="0.7" />
<line x1="488.4" y1="134.3" x2="488.4" y2="136.10000000000002" stroke="#444" stroke-width="0.7" />
<line x1="544.1" y1="134.3" x2="544.1" y2="136.10000000000002" stroke="#444" stroke-width="0.7" />
<line x1="599.8" y1="134.3" x2="599.8" y2="136.10000000000002" stroke="#444" stroke-width="0.7" />
<line x1="655.4" y1="134.3" x2="655.4" y2="136.10000000000002" stroke="#444" stroke-width="0.7" />
<text x="487.6" y="65.3" font-size="10.2" fill="#111" text-anchor="middle" font-weight="normal" font-family='"Liberation Sans", sans-serif' >97.7</text>
<text x="482.8" y="78.8" font-size="9.6" fill="#111" font-family='"Liberation Sans", sans-serif'>O<tspan font-size="7" dy="3">nb</tspan></text>
<text x="542.5" y="63.3" font-size="10.2" fill="#111" text-anchor="middle" font-weight="normal" font-family='"Liberation Sans", sans-serif' >93.8</text>
<text x="544.2" y="125.5" font-size="10.2" fill="#111" text-anchor="middle" font-weight="normal" font-family='"Liberation Sans", sans-serif' >6.20</text>
<text x="598.4" y="62.8" font-size="10.2" fill="#111" text-anchor="middle" font-weight="normal" font-family='"Liberation Sans", sans-serif' >67.3</text>
<text x="600.2" y="103.2" font-size="10.2" fill="#111" text-anchor="middle" font-weight="normal" font-family='"Liberation Sans", sans-serif' >32.7</text>
<text x="656.0" y="61.0" font-size="10.2" fill="#111" text-anchor="middle" font-weight="normal" font-family='"Liberation Sans", sans-serif' >49.2</text>
<text x="656.0" y="81.0" font-size="10.2" fill="#111" text-anchor="middle" font-weight="normal" font-family='"Liberation Sans", sans-serif' >50.8</text>
<text x="646.3" y="126.4" font-size="10" fill="#111" font-family='"Liberation Sans", sans-serif'>Li<tspan font-size="7" dy="2">2</tspan><tspan dy="-2">O</tspan></text>
<text x="473.4" y="8.6" font-size="10.5" fill="#ff3030" font-family='"Liberation Sans", sans-serif'>O<tspan font-size="6.4" dy="2.6">b</tspan><tspan x="486.0" dy="-2.6" font-size="10">2.30</tspan></text>
<text x="542.3" y="8.6" font-size="10" fill="#ff3030" text-anchor="middle" font-weight="normal" font-family='"Liberation Sans", sans-serif' >0.0</text>
<text x="597.9" y="8.6" font-size="10" fill="#ff3030" text-anchor="middle" font-weight="normal" font-family='"Liberation Sans", sans-serif' >0.0</text>
<text x="656.4" y="8.6" font-size="10" fill="#ff3030" text-anchor="middle" font-weight="normal" font-family='"Liberation Sans", sans-serif' >0.0</text>
<text x="488.4" y="147.4" font-size="9.2" fill="#222" text-anchor="middle" font-weight="normal" font-family='"Liberation Sans", sans-serif' >LP-2.20</text>
<text x="544.1" y="147.4" font-size="9.2" fill="#222" text-anchor="middle" font-weight="normal" font-family='"Liberation Sans", sans-serif' >LP-2.63</text>
<text x="599.8" y="147.4" font-size="9.2" fill="#222" text-anchor="middle" font-weight="normal" font-family='"Liberation Sans", sans-serif' >LP-5.24</text>
<text x="655.4" y="147.4" font-size="9.2" fill="#222" text-anchor="middle" font-weight="normal" font-family='"Liberation Sans", sans-serif' >LP-8.78</text>
<text x="571.8" y="158.6" font-size="9.5" fill="#222" text-anchor="middle" font-weight="normal" font-family='"Liberation Sans", sans-serif' >Li/P ratio (XPS S-cell)</text>
<text transform="translate(448.3,124.2) rotate(-90)" font-size="10" fill="#222" font-family='"Liberation Sans", sans-serif'><tspan x="0">O</tspan><tspan x="7.6" font-size="5.6" dy="1.8">x</tspan><tspan x="11.2" dy="-1.8">/</tspan><tspan x="15.8">O</tspan><tspan x="24.2" font-size="5.2" dy="1.8">total</tspan><tspan x="36.6" dy="-1.8">(</tspan><tspan x="43.3">x</tspan><tspan x="51.6">=</tspan><tspan x="58.6">Li</tspan><tspan x="68.8" font-size="6" dy="1.8">2</tspan><tspan x="72" dy="-1.8">O</tspan><tspan x="82.4">,</tspan><tspan x="88.2" fill="#22dd22">nb</tspan><tspan x="98.0">,</tspan><tspan x="101.2" fill="#ff2020">b</tspan><tspan x="106.8" fill="#ff2020">)</tspan></text>
<text x="500.6" y="162.4" font-size="11" font-weight="bold" fill="#000" font-family='"Liberation Serif", serif'>g</text>
<rect x="497.5" y="167.1" width="166.89999999999998" height="87.9" fill="none" stroke="#8a8a8a" stroke-width="0.9"/>
<line x1="497.5" y1="167.1" x2="497.5" y2="255.0" stroke="#444" stroke-width="1" />
<line x1="497.5" y1="255.0" x2="664.4" y2="255.0" stroke="#444" stroke-width="1" />
<line x1="495.5" y1="255.0" x2="497.5" y2="255.0" stroke="#444" stroke-width="0.7" />
<line x1="496.3" y1="247.675" x2="497.5" y2="247.675" stroke="#444" stroke-width="0.7" />
<line x1="495.5" y1="240.35" x2="497.5" y2="240.35" stroke="#444" stroke-width="0.7" />
<line x1="496.3" y1="233.025" x2="497.5" y2="233.025" stroke="#444" stroke-width="0.7" />
<line x1="495.5" y1="225.7" x2="497.5" y2="225.7" stroke="#444" stroke-width="0.7" />
<line x1="496.3" y1="218.375" x2="497.5" y2="218.375" stroke="#444" stroke-width="0.7" />
<line x1="495.5" y1="211.04999999999998" x2="497.5" y2="211.04999999999998" stroke="#444" stroke-width="0.7" />
<line x1="496.3" y1="203.725" x2="497.5" y2="203.725" stroke="#444" stroke-width="0.7" />
<line x1="495.5" y1="196.4" x2="497.5" y2="196.4" stroke="#444" stroke-width="0.7" />
<line x1="496.3" y1="189.075" x2="497.5" y2="189.075" stroke="#444" stroke-width="0.7" />
<line x1="495.5" y1="181.75" x2="497.5" y2="181.75" stroke="#444" stroke-width="0.7" />
<line x1="496.3" y1="174.425" x2="497.5" y2="174.425" stroke="#444" stroke-width="0.7" />
<line x1="495.5" y1="167.09999999999997" x2="497.5" y2="167.09999999999997" stroke="#444" stroke-width="0.7" />
<line x1="497.5" y1="255.0" x2="497.5" y2="256.2" stroke="#444" stroke-width="0.7" />
<line x1="507.93125" y1="255.0" x2="507.93125" y2="257.0" stroke="#444" stroke-width="0.7" />
<line x1="518.3625" y1="255.0" x2="518.3625" y2="256.2" stroke="#444" stroke-width="0.7" />
<line x1="528.79375" y1="255.0" x2="528.79375" y2="257.0" stroke="#444" stroke-width="0.7" />
<line x1="539.225" y1="255.0" x2="539.225" y2="256.2" stroke="#444" stroke-width="0.7" />
<line x1="549.65625" y1="255.0" x2="549.65625" y2="257.0" stroke="#444" stroke-width="0.7" />
<line x1="560.0875" y1="255.0" x2="560.0875" y2="256.2" stroke="#444" stroke-width="0.7" />
<line x1="570.51875" y1="255.0" x2="570.51875" y2="257.0" stroke="#444" stroke-width="0.7" />
<line x1="580.95" y1="255.0" x2="580.95" y2="256.2" stroke="#444" stroke-width="0.7" />
<line x1="591.38125" y1="255.0" x2="591.38125" y2="257.0" stroke="#444" stroke-width="0.7" />
<line x1="601.8125" y1="255.0" x2="601.8125" y2="256.2" stroke="#444" stroke-width="0.7" />
<line x1="612.24375" y1="255.0" x2="612.24375" y2="257.0" stroke="#444" stroke-width="0.7" />
<line x1="622.675" y1="255.0" x2="622.675" y2="256.2" stroke="#444" stroke-width="0.7" />
<line x1="633.10625" y1="255.0" x2="633.10625" y2="257.0" stroke="#444" stroke-width="0.7" />
<line x1="643.5374999999999" y1="255.0" x2="643.5374999999999" y2="256.2" stroke="#444" stroke-width="0.7" />
<line x1="653.96875" y1="255.0" x2="653.96875" y2="257.0" stroke="#444" stroke-width="0.7" />
<line x1="664.4" y1="255.0" x2="664.4" y2="256.2" stroke="#444" stroke-width="0.7" />
<text x="494.0" y="258.4" font-size="10" fill="#222" text-anchor="end" font-weight="normal" font-family='"Liberation Sans", sans-serif' >0.0</text>
<text x="494.0" y="243.75" font-size="10" fill="#222" text-anchor="end" font-weight="normal" font-family='"Liberation Sans", sans-serif' >1.0</text>
<text x="494.0" y="229.1" font-size="10" fill="#222" text-anchor="end" font-weight="normal" font-family='"Liberation Sans", sans-serif' >2.0</text>
<text x="494.0" y="214.45" font-size="10" fill="#222" text-anchor="end" font-weight="normal" font-family='"Liberation Sans", sans-serif' >3.0</text>
<text x="494.0" y="199.8" font-size="10" fill="#222" text-anchor="end" font-weight="normal" font-family='"Liberation Sans", sans-serif' >4.0</text>
<text x="494.0" y="185.15" font-size="10" fill="#222" text-anchor="end" font-weight="normal" font-family='"Liberation Sans", sans-serif' >5.0</text>
<text x="494.0" y="170.49999999999997" font-size="10" fill="#222" text-anchor="end" font-weight="normal" font-family='"Liberation Sans", sans-serif' >6.0</text>
<text x="507.93125" y="266.2" font-size="10" fill="#222" text-anchor="middle" font-weight="normal" font-family='"Liberation Sans", sans-serif' >2</text>
<text x="528.79375" y="266.2" font-size="10" fill="#222" text-anchor="middle" font-weight="normal" font-family='"Liberation Sans", sans-serif' >3</text>
<text x="549.65625" y="266.2" font-size="10" fill="#222" text-anchor="middle" font-weight="normal" font-family='"Liberation Sans", sans-serif' >4</text>
<text x="570.51875" y="266.2" font-size="10" fill="#222" text-anchor="middle" font-weight="normal" font-family='"Liberation Sans", sans-serif' >5</text>
<text x="591.38125" y="266.2" font-size="10" fill="#222" text-anchor="middle" font-weight="normal" font-family='"Liberation Sans", sans-serif' >6</text>
<text x="612.24375" y="266.2" font-size="10" fill="#222" text-anchor="middle" font-weight="normal" font-family='"Liberation Sans", sans-serif' >7</text>
<text x="633.10625" y="266.2" font-size="10" fill="#222" text-anchor="middle" font-weight="normal" font-family='"Liberation Sans", sans-serif' >8</text>
<text x="653.96875" y="266.2" font-size="10" fill="#222" text-anchor="middle" font-weight="normal" font-family='"Liberation Sans", sans-serif' >9</text>
<text x="575.2" y="281.6" font-size="10.3" fill="#222" text-anchor="middle" font-weight="normal" font-family='"Liberation Sans", sans-serif' xml:space="preserve">Li/P ratio  (XPS S-cell)</text>
<text x="501.5" y="249.7" font-size="10.3" fill="#222" text-anchor="start" font-weight="normal" font-family='"Liberation Sans", sans-serif' >25 oC</text>
<circle cx="512.31" cy="207.83" r="2.6" fill="#000"/>
<circle cx="521.28" cy="186.73" r="2.6" fill="#000"/>
<circle cx="575.73" cy="198.16" r="2.6" fill="#000"/>
<circle cx="649.80" cy="204.75" r="2.6" fill="#000"/>
<text transform="translate(472.4,243.4) rotate(-90)" font-size="10.4" fill="#222" font-family='"Liberation Sans", sans-serif'><tspan x="0">σ</tspan><tspan x="6.6" font-size="7" dy="2">Li+</tspan><tspan x="18.6" dy="-2">/</tspan><tspan x="24.6">10</tspan><tspan x="35.6" font-size="7" dy="-4.2">-7</tspan><tspan x="45" dy="4.2">S</tspan><tspan x="54.6">cm</tspan><tspan x="69.6" font-size="7" dy="-4.2">-1</tspan></text>
</svg></body></html>
